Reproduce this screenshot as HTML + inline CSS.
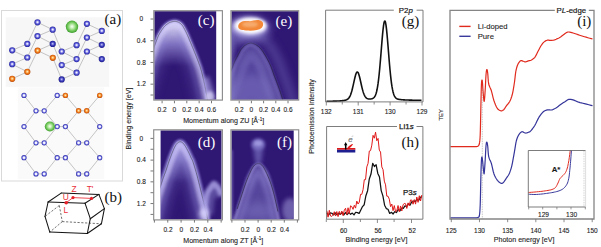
<!DOCTYPE html>
<html><head><meta charset="utf-8"><style>
html,body{margin:0;padding:0;background:#fff;}
svg{display:block;}
</style></head><body>
<svg width="601" height="247" viewBox="0 0 601 247">
<rect width="601" height="247" fill="#fff"/>
<defs>
<radialGradient id="gb" cx="0.5" cy="0.48" r="0.55">
 <stop offset="0" stop-color="#ffffff"/><stop offset="0.22" stop-color="#d0d0fa"/><stop offset="0.5" stop-color="#6464dc"/><stop offset="0.8" stop-color="#3434b4"/><stop offset="1" stop-color="#1c1c88"/></radialGradient>
<radialGradient id="gd" cx="0.5" cy="0.48" r="0.55">
 <stop offset="0" stop-color="#d8d8f8"/><stop offset="0.25" stop-color="#8080e0"/><stop offset="0.55" stop-color="#3a3ab8"/><stop offset="0.85" stop-color="#20209a"/><stop offset="1" stop-color="#141470"/></radialGradient>
<radialGradient id="gr" cx="0.5" cy="0.5" r="0.55">
 <stop offset="0" stop-color="#ffffff"/><stop offset="0.3" stop-color="#f0f0ff"/><stop offset="0.55" stop-color="#8080e4"/><stop offset="0.8" stop-color="#3a3ab8"/><stop offset="1" stop-color="#22229a"/></radialGradient>
<radialGradient id="go" cx="0.5" cy="0.48" r="0.55">
 <stop offset="0" stop-color="#fff6d0"/><stop offset="0.25" stop-color="#fbc070"/><stop offset="0.55" stop-color="#ee7a1c"/><stop offset="0.82" stop-color="#d05808"/><stop offset="1" stop-color="#a03800"/></radialGradient>
<radialGradient id="gg" cx="0.5" cy="0.48" r="0.55">
 <stop offset="0" stop-color="#fbfff8"/><stop offset="0.3" stop-color="#c0ecb0"/><stop offset="0.65" stop-color="#70c858"/><stop offset="0.9" stop-color="#44a034"/><stop offset="1" stop-color="#2e8a26"/></radialGradient>
<filter id="b05" x="-50%" y="-50%" width="200%" height="200%"><feGaussianBlur stdDeviation="0.5"/></filter>
<filter id="b08" x="-50%" y="-50%" width="200%" height="200%"><feGaussianBlur stdDeviation="0.8"/></filter>
<filter id="b1" x="-50%" y="-50%" width="200%" height="200%"><feGaussianBlur stdDeviation="1.2"/></filter>
<filter id="b15" x="-50%" y="-50%" width="200%" height="200%"><feGaussianBlur stdDeviation="1.5"/></filter>
<filter id="b2" x="-50%" y="-50%" width="200%" height="200%"><feGaussianBlur stdDeviation="2.2"/></filter>
<filter id="b4" x="-50%" y="-50%" width="200%" height="200%"><feGaussianBlur stdDeviation="4"/></filter>
<filter id="b7" x="-50%" y="-50%" width="200%" height="200%"><feGaussianBlur stdDeviation="7"/></filter>
</defs>
<rect x="1.5" y="10.5" width="121" height="170.5" fill="#fff" stroke="#d9d9d9" stroke-width="1"/>
<rect x="5.7" y="17.3" width="103.5" height="69.5" fill="#f7f7f7"/>
<rect x="17.8" y="87.5" width="86.5" height="91.5" fill="#fafafa"/>
<g stroke="#bdbdbd" stroke-width="0.9"><line x1="37.5" y1="22.3" x2="52.7" y2="29.7"/><line x1="52.7" y1="29.7" x2="37.5" y2="36.1"/><line x1="37.5" y1="36.1" x2="52.7" y2="43.9"/><line x1="52.7" y1="43.9" x2="37.6" y2="50.6"/><line x1="37.6" y1="50.6" x2="52.8" y2="57.8"/><line x1="12.2" y1="50.3" x2="27.3" y2="43.9"/><line x1="27.3" y1="43.9" x2="37.5" y2="22.3"/><line x1="12.2" y1="50.3" x2="27.3" y2="57.5"/><line x1="27.3" y1="57.5" x2="12.2" y2="64.2"/><line x1="12.2" y1="64.2" x2="27.3" y2="71.8"/><line x1="27.3" y1="71.8" x2="12.2" y2="78.8"/><line x1="37.5" y1="36.1" x2="27.3" y2="57.5"/><line x1="37.6" y1="50.6" x2="27.3" y2="71.8"/><line x1="76.6" y1="45.2" x2="61.7" y2="51.5"/><line x1="61.7" y1="51.5" x2="76.6" y2="59.1"/><line x1="76.6" y1="59.1" x2="61.7" y2="65.1"/><line x1="61.7" y1="65.1" x2="76.6" y2="72.7"/><line x1="76.6" y1="72.7" x2="61.7" y2="79.4"/><line x1="52.7" y1="29.7" x2="61.7" y2="51.5"/><line x1="52.7" y1="43.9" x2="61.7" y2="65.1"/><line x1="52.8" y1="57.8" x2="61.7" y2="79.4"/><line x1="86.9" y1="23.8" x2="101.8" y2="30.9"/><line x1="101.8" y1="30.9" x2="86.9" y2="37.6"/><line x1="86.9" y1="37.6" x2="101.8" y2="44.8"/><line x1="101.8" y1="44.8" x2="86.9" y2="51.5"/><line x1="86.9" y1="51.5" x2="101.8" y2="59.1"/><line x1="76.6" y1="45.2" x2="86.9" y2="23.8"/><line x1="76.6" y1="59.1" x2="86.9" y2="37.6"/><line x1="76.6" y1="72.7" x2="86.9" y2="51.5"/><line x1="36" y1="110.8" x2="44.2" y2="110.8"/><line x1="78.6" y1="110.8" x2="86.7" y2="110.8"/><line x1="36" y1="142.8" x2="44.2" y2="142.8"/><line x1="78.6" y1="142.8" x2="86.7" y2="142.8"/><line x1="36" y1="173.9" x2="44.2" y2="173.9"/><line x1="78.6" y1="173.9" x2="86.7" y2="173.9"/><line x1="57.2" y1="95.4" x2="65.4" y2="95.4"/><line x1="57.2" y1="126.6" x2="65.4" y2="126.6"/><line x1="57.2" y1="157.7" x2="65.4" y2="157.7"/><line x1="24" y1="95.4" x2="36" y2="110.8"/><line x1="44.2" y1="110.8" x2="57.2" y2="95.4"/><line x1="65.4" y1="95.4" x2="78.6" y2="110.8"/><line x1="86.7" y1="110.8" x2="99.7" y2="95.4"/><line x1="24" y1="126.6" x2="36" y2="110.8"/><line x1="44.2" y1="110.8" x2="57.2" y2="126.6"/><line x1="65.4" y1="126.6" x2="78.6" y2="110.8"/><line x1="86.7" y1="110.8" x2="99.7" y2="126.6"/><line x1="24" y1="126.6" x2="36" y2="142.8"/><line x1="44.2" y1="142.8" x2="57.2" y2="126.6"/><line x1="65.4" y1="126.6" x2="78.6" y2="142.8"/><line x1="86.7" y1="142.8" x2="99.7" y2="126.6"/><line x1="24" y1="157.7" x2="36" y2="142.8"/><line x1="44.2" y1="142.8" x2="57.2" y2="157.7"/><line x1="65.4" y1="157.7" x2="78.6" y2="142.8"/><line x1="86.7" y1="142.8" x2="99.7" y2="157.7"/><line x1="24" y1="157.7" x2="36" y2="173.9"/><line x1="44.2" y1="173.9" x2="57.2" y2="157.7"/><line x1="65.4" y1="157.7" x2="78.6" y2="173.9"/><line x1="86.7" y1="173.9" x2="99.7" y2="157.7"/></g>
<circle cx="37.5" cy="22.3" r="3.1" fill="url(#gb)"/>
<circle cx="52.7" cy="29.7" r="3.1" fill="url(#gb)"/>
<circle cx="37.5" cy="36.1" r="3.1" fill="url(#gb)"/>
<circle cx="52.7" cy="43.9" r="3.1" fill="url(#gd)"/>
<circle cx="37.6" cy="50.6" r="3.1" fill="url(#go)"/>
<circle cx="52.8" cy="57.8" r="3.1" fill="url(#go)"/>
<circle cx="27.3" cy="43.9" r="3.1" fill="url(#gb)"/>
<circle cx="12.2" cy="50.3" r="3.1" fill="url(#gb)"/>
<circle cx="27.3" cy="57.5" r="3.1" fill="url(#gb)"/>
<circle cx="12.2" cy="64.2" r="3.1" fill="url(#gb)"/>
<circle cx="27.3" cy="71.8" r="3.1" fill="url(#go)"/>
<circle cx="12.2" cy="78.8" r="3.1" fill="url(#go)"/>
<circle cx="76.6" cy="45.2" r="3.1" fill="url(#gb)"/>
<circle cx="61.7" cy="51.5" r="3.1" fill="url(#gb)"/>
<circle cx="76.6" cy="59.1" r="3.1" fill="url(#gb)"/>
<circle cx="61.7" cy="65.1" r="3.1" fill="url(#gb)"/>
<circle cx="76.6" cy="72.7" r="3.1" fill="url(#gb)"/>
<circle cx="61.7" cy="79.4" r="3.1" fill="url(#gd)"/>
<circle cx="86.9" cy="23.8" r="3.1" fill="url(#gb)"/>
<circle cx="101.8" cy="30.9" r="3.1" fill="url(#gb)"/>
<circle cx="86.9" cy="37.6" r="3.1" fill="url(#gb)"/>
<circle cx="101.8" cy="44.8" r="3.1" fill="url(#gd)"/>
<circle cx="86.9" cy="51.5" r="3.1" fill="url(#gb)"/>
<circle cx="101.8" cy="59.1" r="3.1" fill="url(#gd)"/>
<circle cx="24" cy="95.4" r="2.6" fill="url(#gr)"/>
<circle cx="57.2" cy="95.4" r="2.6" fill="url(#gr)"/>
<circle cx="65.4" cy="95.4" r="2.7" fill="url(#go)"/>
<circle cx="99.7" cy="95.4" r="2.7" fill="url(#go)"/>
<circle cx="24" cy="126.6" r="2.6" fill="url(#gr)"/>
<circle cx="57.2" cy="126.6" r="2.6" fill="url(#gr)"/>
<circle cx="65.4" cy="126.6" r="2.6" fill="url(#gr)"/>
<circle cx="99.7" cy="126.6" r="2.6" fill="url(#gr)"/>
<circle cx="24" cy="157.7" r="2.6" fill="url(#gr)"/>
<circle cx="57.2" cy="157.7" r="2.6" fill="url(#gr)"/>
<circle cx="65.4" cy="157.7" r="2.6" fill="url(#gr)"/>
<circle cx="99.7" cy="157.7" r="2.6" fill="url(#gr)"/>
<circle cx="36" cy="110.8" r="2.6" fill="url(#gr)"/>
<circle cx="44.2" cy="110.8" r="2.6" fill="url(#gr)"/>
<circle cx="78.6" cy="110.8" r="2.7" fill="url(#go)"/>
<circle cx="86.7" cy="110.8" r="2.7" fill="url(#go)"/>
<circle cx="36" cy="142.8" r="2.6" fill="url(#gr)"/>
<circle cx="44.2" cy="142.8" r="2.6" fill="url(#gr)"/>
<circle cx="78.6" cy="142.8" r="2.6" fill="url(#gr)"/>
<circle cx="86.7" cy="142.8" r="2.6" fill="url(#gr)"/>
<circle cx="36" cy="173.9" r="2.6" fill="url(#gr)"/>
<circle cx="44.2" cy="173.9" r="2.6" fill="url(#gr)"/>
<circle cx="78.6" cy="173.9" r="2.6" fill="url(#gr)"/>
<circle cx="86.7" cy="173.9" r="2.6" fill="url(#gr)"/>
<circle cx="72" cy="26.8" r="6.2" fill="url(#gg)"/>
<circle cx="49.9" cy="126.5" r="5.1" fill="url(#gg)"/>
<text x="104.6" y="24.3" font-family="Liberation Serif, serif" font-size="15" fill="#111">(a)</text>
<g stroke="#141414" stroke-width="1.05" fill="none" stroke-linecap="round"><line x1="61.2" y1="193.1" x2="98.9" y2="194.4"/><line x1="61.2" y1="193.1" x2="48.1" y2="202"/><line x1="48.1" y1="202" x2="85" y2="203.2"/><line x1="48.1" y1="202" x2="45" y2="216.4"/><line x1="45" y1="216.4" x2="49.8" y2="232.1"/><line x1="49.8" y1="232.1" x2="87.3" y2="233.5"/><line x1="85" y1="203.2" x2="98.9" y2="194.4"/><line x1="98.9" y1="194.4" x2="104.4" y2="208.6"/><line x1="104.4" y1="208.6" x2="90.3" y2="218.7"/><line x1="85" y1="203.2" x2="90.3" y2="218.7"/><line x1="90.3" y1="218.7" x2="87.3" y2="233.5"/><line x1="104.4" y1="208.6" x2="101.4" y2="223.8"/><line x1="101.4" y1="223.8" x2="87.3" y2="233.5"/></g><g stroke="#333" stroke-width="0.7" stroke-dasharray="2.2 1.6" fill="none"><line x1="59.3" y1="205.5" x2="45" y2="216.4"/><line x1="59.3" y1="205.5" x2="62.3" y2="221.6"/><line x1="62.3" y1="221.6" x2="101.4" y2="223.8"/><line x1="62.3" y1="221.6" x2="49.8" y2="232.1"/></g>
<g stroke="#e8202a" stroke-width="0.8"><line x1="66.2" y1="202.7" x2="73" y2="197.6"/><line x1="73" y1="197.6" x2="91.5" y2="198.4"/></g>
<g fill="#e8202a"><circle cx="66.2" cy="202.7" r="1.8"/><circle cx="73" cy="197.6" r="1.6"/><circle cx="91.5" cy="198.4" r="1.6"/></g>
<g font-family="Liberation Sans, sans-serif" font-size="8.4" fill="#e8303a" text-anchor="middle"><text x="74.1" y="191.5">Z</text><text x="90" y="191.9">T'</text><text x="65.7" y="200.4">U</text><text x="65.9" y="213.2">L</text></g>
<text x="104.6" y="202.3" font-family="Liberation Serif, serif" font-size="15" fill="#111">(b)</text>
<clipPath id="cc"><rect x="154.4" y="11.2" width="61.8" height="88.4"/></clipPath>
<rect x="153.5" y="10" width="68.5" height="90.3" fill="#fff"/>
<rect x="154.4" y="11.2" width="61.8" height="88.4" fill="#2f1774"/>
<clipPath id="bi1"><path d="M136.86 99.63 L137.13 98.79 L137.49 97.67 L137.92 96.33 L138.4 94.85 L138.91 93.28 L139.41 91.68 L139.9 90.12 L140.35 88.65 L140.77 87.25 L141.18 85.85 L141.58 84.44 L141.98 83.02 L142.39 81.58 L142.8 80.13 L143.22 78.66 L143.65 77.16 L144.1 75.61 L144.58 73.99 L145.07 72.33 L145.56 70.66 L146.05 69.02 L146.51 67.45 L146.95 65.99 L147.35 64.65 L147.71 63.47 L148.03 62.4 L148.33 61.43 L148.61 60.52 L148.87 59.66 L149.13 58.83 L149.39 58 L149.65 57.15 L149.92 56.28 L150.18 55.43 L150.43 54.59 L150.68 53.77 L150.93 52.96 L151.17 52.17 L151.42 51.39 L151.66 50.64 L151.89 49.9 L152.12 49.19 L152.35 48.51 L152.57 47.83 L152.79 47.17 L153.01 46.51 L153.24 45.86 L153.47 45.2 L153.7 44.54 L153.94 43.89 L154.18 43.25 L154.41 42.6 L154.65 41.97 L154.89 41.33 L155.14 40.7 L155.38 40.07 L155.62 39.44 L155.87 38.79 L156.11 38.14 L156.36 37.49 L156.62 36.84 L156.88 36.2 L157.14 35.58 L157.42 34.98 L157.7 34.42 L157.98 33.88 L158.27 33.37 L158.56 32.88 L158.84 32.41 L159.13 31.95 L159.41 31.51 L159.68 31.06 L159.96 30.62 L160.24 30.18 L160.52 29.74 L160.8 29.31 L161.08 28.89 L161.37 28.48 L161.65 28.07 L161.94 27.68 L162.22 27.31 L162.51 26.94 L162.79 26.58 L163.08 26.23 L163.37 25.9 L163.66 25.57 L163.96 25.25 L164.25 24.95 L164.54 24.67 L164.83 24.4 L165.11 24.15 L165.4 23.91 L165.69 23.68 L165.99 23.46 L166.3 23.24 L166.62 23.01 L166.94 22.79 L167.28 22.56 L167.64 22.32 L168.02 22.07 L168.42 21.83 L168.84 21.6 L169.29 21.38 L169.76 21.18 L170.25 21.01 L170.76 20.84 L171.28 20.69 L171.82 20.56 L172.35 20.44 L172.88 20.34 L173.4 20.26 L173.89 20.2 L174.37 20.17 L174.82 20.17 L175.26 20.18 L175.69 20.22 L176.11 20.28 L176.52 20.35 L176.92 20.44 L177.32 20.54 L177.71 20.66 L178.11 20.79 L178.5 20.93 L178.9 21.1 L179.3 21.29 L179.71 21.51 L180.11 21.75 L180.5 22.03 L180.89 22.31 L181.27 22.62 L181.65 22.95 L182.04 23.31 L182.42 23.7 L182.81 24.13 L183.19 24.59 L183.58 25.1 L183.96 25.67 L184.34 26.28 L184.72 26.93 L185.09 27.6 L185.45 28.28 L185.8 28.95 L186.14 29.62 L186.47 30.25 L186.78 30.88 L187.09 31.49 L187.38 32.1 L187.67 32.71 L187.95 33.32 L188.23 33.94 L188.51 34.57 L188.8 35.22 L189.09 35.88 L189.38 36.56 L189.67 37.25 L189.95 37.94 L190.24 38.64 L190.53 39.34 L190.82 40.04 L191.11 40.74 L191.4 41.44 L191.7 42.15 L192.01 42.87 L192.31 43.59 L192.62 44.31 L192.92 45.03 L193.22 45.74 L193.51 46.44 L193.79 47.13 L194.07 47.81 L194.35 48.49 L194.62 49.16 L194.9 49.83 L195.17 50.5 L195.44 51.17 L195.71 51.85 L195.99 52.53 L196.26 53.2 L196.53 53.87 L196.8 54.54 L197.07 55.22 L197.35 55.92 L197.63 56.63 L197.92 57.37 L198.21 58.13 L198.52 58.93 L198.83 59.75 L199.15 60.58 L199.46 61.41 L199.76 62.23 L200.06 63.03 L200.33 63.79 L200.58 64.49 L200.81 65.14 L201.03 65.75 L201.25 66.37 L201.46 67 L201.68 67.68 L201.91 68.43 L202.15 69.27 L202.41 70.21 L202.68 71.21 L202.96 72.28 L203.24 73.39 L203.53 74.53 L203.81 75.7 L204.09 76.86 L204.37 78.03 L204.64 79.18 L204.9 80.35 L205.16 81.53 L205.42 82.72 L205.68 83.94 L205.94 85.18 L206.21 86.45 L206.48 87.76 L206.75 89.15 L207.04 90.62 L207.33 92.13 L207.62 93.67 L207.9 95.18 L208.18 96.64 L208.44 98.02 L208.68 99.27 L208.9 100.39 L209.09 101.39 L209.27 102.31 L209.44 103.17 L209.61 104.02 L209.78 104.87 L209.97 105.77 L210.17 106.75 L210.41 107.86 L210.68 109.1 L210.97 110.4 L211.26 111.71 L211.55 112.95 L211.8 114.08 L212.01 115.03 L212.17 115.74 L212.17 196 L136.86 196 Z"/></clipPath>
<linearGradient id="fg1" gradientUnits="userSpaceOnUse" x1="0" y1="21" x2="0" y2="100"><stop offset="0" stop-color="#fff"/><stop offset="1" stop-color="#fff" stop-opacity="0.6"/></linearGradient>
<mask id="fm1" maskUnits="userSpaceOnUse" x="0" y="0" width="601" height="247"><rect x="0" y="0" width="601" height="247" fill="url(#fg1)"/></mask>
<g clip-path="url(#cc)">
<g clip-path="url(#bi1)"><g mask="url(#fm1)">
<linearGradient id="cg1" gradientUnits="userSpaceOnUse" x1="0" y1="21" x2="0" y2="66"><stop offset="0" stop-color="#ffffff" stop-opacity="1"/><stop offset="0.16" stop-color="#ffffff" stop-opacity="1"/><stop offset="0.51" stop-color="#b4acee" stop-opacity="0.72"/><stop offset="1" stop-color="#b4acee" stop-opacity="0"/></linearGradient>
<path d="M136.86 99.63 L137.13 98.79 L137.49 97.67 L137.92 96.33 L138.4 94.85 L138.91 93.28 L139.41 91.68 L139.9 90.12 L140.35 88.65 L140.77 87.25 L141.18 85.85 L141.58 84.44 L141.98 83.02 L142.39 81.58 L142.8 80.13 L143.22 78.66 L143.65 77.16 L144.1 75.61 L144.58 73.99 L145.07 72.33 L145.56 70.66 L146.05 69.02 L146.51 67.45 L146.95 65.99 L147.35 64.65 L147.71 63.47 L148.03 62.4 L148.33 61.43 L148.61 60.52 L148.87 59.66 L149.13 58.83 L149.39 58 L149.65 57.15 L149.92 56.28 L150.18 55.43 L150.43 54.59 L150.68 53.77 L150.93 52.96 L151.17 52.17 L151.42 51.39 L151.66 50.64 L151.89 49.9 L152.12 49.19 L152.35 48.51 L152.57 47.83 L152.79 47.17 L153.01 46.51 L153.24 45.86 L153.47 45.2 L153.7 44.54 L153.94 43.89 L154.18 43.25 L154.41 42.6 L154.65 41.97 L154.89 41.33 L155.14 40.7 L155.38 40.07 L155.62 39.44 L155.87 38.79 L156.11 38.14 L156.36 37.49 L156.62 36.84 L156.88 36.2 L157.14 35.58 L157.42 34.98 L157.7 34.42 L157.98 33.88 L158.27 33.37 L158.56 32.88 L158.84 32.41 L159.13 31.95 L159.41 31.51 L159.68 31.06 L159.96 30.62 L160.24 30.18 L160.52 29.74 L160.8 29.31 L161.08 28.89 L161.37 28.48 L161.65 28.07 L161.94 27.68 L162.22 27.31 L162.51 26.94 L162.79 26.58 L163.08 26.23 L163.37 25.9 L163.66 25.57 L163.96 25.25 L164.25 24.95 L164.54 24.67 L164.83 24.4 L165.11 24.15 L165.4 23.91 L165.69 23.68 L165.99 23.46 L166.3 23.24 L166.62 23.01 L166.94 22.79 L167.28 22.56 L167.64 22.32 L168.02 22.07 L168.42 21.83 L168.84 21.6 L169.29 21.38 L169.76 21.18 L170.25 21.01 L170.76 20.84 L171.28 20.69 L171.82 20.56 L172.35 20.44 L172.88 20.34 L173.4 20.26 L173.89 20.2 L174.37 20.17 L174.82 20.17 L175.26 20.18 L175.69 20.22 L176.11 20.28 L176.52 20.35 L176.92 20.44 L177.32 20.54 L177.71 20.66 L178.11 20.79 L178.5 20.93 L178.9 21.1 L179.3 21.29 L179.71 21.51 L180.11 21.75 L180.5 22.03 L180.89 22.31 L181.27 22.62 L181.65 22.95 L182.04 23.31 L182.42 23.7 L182.81 24.13 L183.19 24.59 L183.58 25.1 L183.96 25.67 L184.34 26.28 L184.72 26.93 L185.09 27.6 L185.45 28.28 L185.8 28.95 L186.14 29.62 L186.47 30.25 L186.78 30.88 L187.09 31.49 L187.38 32.1 L187.67 32.71 L187.95 33.32 L188.23 33.94 L188.51 34.57 L188.8 35.22 L189.09 35.88 L189.38 36.56 L189.67 37.25 L189.95 37.94 L190.24 38.64 L190.53 39.34 L190.82 40.04 L191.11 40.74 L191.4 41.44 L191.7 42.15 L192.01 42.87 L192.31 43.59 L192.62 44.31 L192.92 45.03 L193.22 45.74 L193.51 46.44 L193.79 47.13 L194.07 47.81 L194.35 48.49 L194.62 49.16 L194.9 49.83 L195.17 50.5 L195.44 51.17 L195.71 51.85 L195.99 52.53 L196.26 53.2 L196.53 53.87 L196.8 54.54 L197.07 55.22 L197.35 55.92 L197.63 56.63 L197.92 57.37 L198.21 58.13 L198.52 58.93 L198.83 59.75 L199.15 60.58 L199.46 61.41 L199.76 62.23 L200.06 63.03 L200.33 63.79 L200.58 64.49 L200.81 65.14 L201.03 65.75 L201.25 66.37 L201.46 67 L201.68 67.68 L201.91 68.43 L202.15 69.27 L202.41 70.21 L202.68 71.21 L202.96 72.28 L203.24 73.39 L203.53 74.53 L203.81 75.7 L204.09 76.86 L204.37 78.03 L204.64 79.18 L204.9 80.35 L205.16 81.53 L205.42 82.72 L205.68 83.94 L205.94 85.18 L206.21 86.45 L206.48 87.76 L206.75 89.15 L207.04 90.62 L207.33 92.13 L207.62 93.67 L207.9 95.18 L208.18 96.64 L208.44 98.02 L208.68 99.27 L208.9 100.39 L209.09 101.39 L209.27 102.31 L209.44 103.17 L209.61 104.02 L209.78 104.87 L209.97 105.77 L210.17 106.75 L210.41 107.86 L210.68 109.1 L210.97 110.4 L211.26 111.71 L211.55 112.95 L211.8 114.08 L212.01 115.03 L212.17 115.74 L212.17 196 L136.86 196 Z" fill="url(#cg1)" filter="url(#b1)"/>
<path d="M148.47 103.36 L148.74 102.53 L149.1 101.42 L149.53 100.09 L150.02 98.59 L150.53 96.99 L151.05 95.35 L151.56 93.73 L152.03 92.18 L152.47 90.7 L152.9 89.23 L153.31 87.78 L153.72 86.33 L154.13 84.89 L154.53 83.46 L154.94 82.02 L155.36 80.57 L155.81 79.05 L156.28 77.43 L156.77 75.78 L157.26 74.12 L157.74 72.5 L158.21 70.94 L158.64 69.48 L159.04 68.16 L159.39 67 L159.7 65.96 L159.99 65.01 L160.27 64.12 L160.53 63.27 L160.79 62.44 L161.05 61.6 L161.32 60.73 L161.59 59.85 L161.85 58.98 L162.1 58.14 L162.35 57.33 L162.59 56.54 L162.83 55.78 L163.06 55.05 L163.28 54.34 L163.5 53.64 L163.72 52.97 L163.94 52.31 L164.14 51.68 L164.35 51.07 L164.56 50.46 L164.76 49.86 L164.97 49.26 L165.19 48.66 L165.4 48.07 L165.62 47.48 L165.84 46.88 L166.06 46.28 L166.29 45.68 L166.53 45.08 L166.77 44.44 L167.03 43.77 L167.28 43.1 L167.52 42.48 L167.74 41.89 L167.94 41.37 L168.13 40.91 L168.29 40.53 L168.43 40.23 L168.56 39.98 L168.69 39.72 L168.85 39.44 L169.03 39.14 L169.24 38.8 L169.48 38.41 L169.75 37.98 L170.03 37.52 L170.29 37.11 L170.53 36.73 L170.76 36.38 L170.97 36.05 L171.18 35.74 L171.37 35.46 L171.55 35.2 L171.73 34.96 L171.91 34.73 L172.09 34.49 L172.26 34.28 L172.41 34.09 L172.56 33.93 L172.68 33.79 L172.79 33.67 L172.88 33.57 L172.96 33.5 L173.01 33.45 L173.05 33.42 L173.09 33.39 L173.14 33.35 L173.22 33.28 L173.35 33.19 L173.57 33.04 L173.86 32.84 L174.13 32.65 L174.32 32.52 L174.44 32.44 L174.49 32.42 L174.46 32.43 L174.35 32.48 L174.22 32.54 L174.19 32.55 L174.29 32.52 L174.45 32.47 L174.63 32.43 L174.8 32.39 L174.94 32.36 L175.01 32.35 L174.98 32.36 L174.86 32.36 L174.71 32.37 L174.53 32.36 L174.36 32.35 L174.2 32.33 L174.1 32.31 L174.05 32.3 L174.08 32.31 L174.13 32.32 L174.12 32.31 L174.04 32.29 L173.92 32.24 L173.77 32.16 L173.6 32.07 L173.44 31.97 L173.36 31.92 L173.41 31.95 L173.48 32.01 L173.52 32.04 L173.54 32.06 L173.55 32.07 L173.57 32.09 L173.6 32.14 L173.65 32.19 L173.72 32.3 L173.88 32.56 L174.1 32.94 L174.36 33.41 L174.65 33.96 L174.96 34.56 L175.29 35.19 L175.6 35.8 L175.88 36.34 L176.12 36.84 L176.37 37.34 L176.61 37.86 L176.85 38.39 L177.11 38.95 L177.37 39.53 L177.63 40.13 L177.89 40.71 L178.14 41.31 L178.4 41.94 L178.68 42.59 L178.96 43.28 L179.25 43.99 L179.55 44.71 L179.85 45.45 L180.16 46.18 L180.47 46.9 L180.77 47.62 L181.07 48.34 L181.38 49.05 L181.67 49.75 L181.96 50.44 L182.24 51.11 L182.51 51.78 L182.79 52.44 L183.06 53.1 L183.32 53.76 L183.59 54.41 L183.86 55.07 L184.13 55.74 L184.4 56.42 L184.68 57.1 L184.95 57.78 L185.22 58.44 L185.48 59.1 L185.75 59.75 L186.01 60.41 L186.27 61.08 L186.54 61.77 L186.83 62.51 L187.13 63.29 L187.43 64.08 L187.73 64.88 L188.03 65.68 L188.32 66.45 L188.59 67.19 L188.85 67.92 L189.1 68.62 L189.33 69.26 L189.53 69.83 L189.71 70.33 L189.87 70.82 L190.04 71.33 L190.22 71.91 L190.42 72.6 L190.65 73.42 L190.89 74.33 L191.15 75.32 L191.41 76.37 L191.68 77.45 L191.96 78.57 L192.23 79.69 L192.49 80.8 L192.74 81.91 L193 83.02 L193.25 84.15 L193.5 85.3 L193.75 86.47 L194 87.67 L194.26 88.91 L194.52 90.18 L194.78 91.5 L195.06 92.92 L195.34 94.41 L195.63 95.92 L195.91 97.43 L196.19 98.9 L196.45 100.3 L196.7 101.59 L196.92 102.72 L197.12 103.72 L197.3 104.66 L197.47 105.55 L197.65 106.42 L197.83 107.32 L198.03 108.27 L198.24 109.29 L198.49 110.45 L198.77 111.72 L199.06 113.05 L199.36 114.37 L199.64 115.63 L199.9 116.76 L200.11 117.71 L200.27 118.4" fill="none" stroke="#7c74c6" stroke-width="9" opacity="0.3" filter="url(#b4)"/>
<path d="M144.66 102.14 L144.93 101.3 L145.29 100.19 L145.73 98.86 L146.21 97.36 L146.72 95.77 L147.23 94.15 L147.73 92.55 L148.2 91.03 L148.63 89.57 L149.06 88.12 L149.47 86.68 L149.87 85.25 L150.28 83.81 L150.69 82.37 L151.1 80.92 L151.52 79.45 L151.97 77.92 L152.44 76.3 L152.93 74.65 L153.42 72.99 L153.91 71.36 L154.37 69.8 L154.81 68.33 L155.2 67.01 L155.56 65.84 L155.88 64.79 L156.17 63.83 L156.44 62.94 L156.71 62.09 L156.97 61.26 L157.22 60.42 L157.49 59.56 L157.76 58.68 L158.02 57.82 L158.28 56.98 L158.53 56.16 L158.77 55.37 L159.01 54.6 L159.24 53.85 L159.47 53.12 L159.7 52.42 L159.92 51.73 L160.14 51.07 L160.35 50.42 L160.56 49.79 L160.77 49.17 L160.98 48.55 L161.2 47.93 L161.42 47.31 L161.64 46.7 L161.87 46.09 L162.09 45.48 L162.32 44.87 L162.56 44.26 L162.79 43.64 L163.04 43.01 L163.29 42.35 L163.54 41.69 L163.78 41.05 L164.01 40.45 L164.23 39.88 L164.44 39.37 L164.64 38.91 L164.82 38.51 L165 38.16 L165.18 37.81 L165.38 37.45 L165.6 37.09 L165.83 36.7 L166.08 36.29 L166.36 35.86 L166.64 35.4 L166.9 34.98 L167.15 34.58 L167.4 34.2 L167.64 33.84 L167.87 33.49 L168.09 33.17 L168.31 32.87 L168.52 32.58 L168.73 32.29 L168.95 32.02 L169.15 31.76 L169.35 31.52 L169.54 31.29 L169.72 31.09 L169.89 30.91 L170.05 30.75 L170.2 30.6 L170.33 30.48 L170.45 30.38 L170.57 30.28 L170.7 30.18 L170.85 30.06 L171.04 29.93 L171.29 29.75 L171.59 29.54 L171.89 29.34 L172.13 29.18 L172.34 29.04 L172.5 28.95 L172.62 28.88 L172.69 28.84 L172.76 28.82 L172.9 28.77 L173.13 28.69 L173.41 28.61 L173.71 28.54 L174 28.47 L174.27 28.42 L174.48 28.39 L174.62 28.37 L174.7 28.37 L174.74 28.37 L174.77 28.37 L174.79 28.37 L174.83 28.38 L174.89 28.39 L174.99 28.41 L175.14 28.45 L175.3 28.5 L175.43 28.53 L175.51 28.56 L175.56 28.58 L175.58 28.6 L175.6 28.61 L175.62 28.62 L175.7 28.68 L175.86 28.79 L176.03 28.93 L176.18 29.06 L176.32 29.19 L176.46 29.33 L176.6 29.48 L176.75 29.66 L176.9 29.87 L177.08 30.13 L177.31 30.5 L177.58 30.97 L177.88 31.51 L178.19 32.1 L178.52 32.72 L178.85 33.36 L179.17 33.98 L179.45 34.55 L179.72 35.09 L179.98 35.62 L180.23 36.17 L180.49 36.73 L180.75 37.31 L181.02 37.91 L181.29 38.52 L181.56 39.13 L181.82 39.75 L182.1 40.4 L182.37 41.07 L182.66 41.76 L182.95 42.46 L183.24 43.18 L183.54 43.9 L183.85 44.62 L184.15 45.34 L184.45 46.06 L184.76 46.78 L185.06 47.5 L185.36 48.2 L185.65 48.9 L185.93 49.58 L186.21 50.26 L186.49 50.92 L186.76 51.59 L187.03 52.25 L187.3 52.91 L187.57 53.57 L187.84 54.24 L188.11 54.92 L188.39 55.6 L188.66 56.28 L188.93 56.94 L189.19 57.6 L189.46 58.27 L189.73 58.94 L190 59.62 L190.27 60.33 L190.56 61.08 L190.86 61.86 L191.17 62.66 L191.47 63.47 L191.78 64.28 L192.07 65.07 L192.35 65.83 L192.61 66.57 L192.86 67.27 L193.1 67.91 L193.3 68.49 L193.49 69.03 L193.67 69.57 L193.86 70.14 L194.05 70.77 L194.27 71.51 L194.5 72.37 L194.76 73.31 L195.02 74.32 L195.29 75.39 L195.57 76.5 L195.84 77.62 L196.12 78.76 L196.38 79.89 L196.64 81.02 L196.9 82.15 L197.15 83.29 L197.41 84.45 L197.66 85.64 L197.92 86.86 L198.18 88.1 L198.44 89.38 L198.71 90.73 L198.99 92.17 L199.27 93.66 L199.56 95.18 L199.84 96.69 L200.12 98.16 L200.38 99.55 L200.63 100.83 L200.85 101.95 L201.04 102.96 L201.22 103.89 L201.4 104.77 L201.57 105.64 L201.75 106.52 L201.94 107.45 L202.15 108.46 L202.4 109.6 L202.68 110.86 L202.97 112.18 L203.26 113.5 L203.55 114.75 L203.8 115.89 L204.01 116.83 L204.17 117.53" fill="none" stroke="#a098e2" stroke-width="6" opacity="0.45" filter="url(#b2)"/>
<path d="M141.43 101.1 L141.7 100.26 L142.06 99.14 L142.49 97.81 L142.97 96.32 L143.48 94.74 L143.99 93.13 L144.49 91.54 L144.95 90.04 L145.37 88.61 L145.79 87.18 L146.2 85.75 L146.6 84.32 L147.01 82.88 L147.42 81.44 L147.83 79.98 L148.26 78.51 L148.71 76.96 L149.18 75.34 L149.67 73.69 L150.16 72.02 L150.65 70.39 L151.11 68.82 L151.55 67.36 L151.95 66.04 L152.3 64.86 L152.62 63.8 L152.92 62.83 L153.2 61.94 L153.46 61.08 L153.72 60.25 L153.98 59.42 L154.24 58.56 L154.51 57.68 L154.77 56.83 L155.02 55.99 L155.27 55.17 L155.52 54.37 L155.76 53.59 L156 52.83 L156.23 52.09 L156.46 51.37 L156.69 50.68 L156.91 50 L157.12 49.35 L157.34 48.7 L157.55 48.07 L157.77 47.43 L158 46.8 L158.22 46.16 L158.45 45.53 L158.68 44.91 L158.91 44.29 L159.14 43.67 L159.38 43.04 L159.62 42.42 L159.86 41.79 L160.11 41.14 L160.36 40.49 L160.6 39.84 L160.84 39.22 L161.07 38.62 L161.3 38.05 L161.53 37.53 L161.75 37.05 L161.97 36.61 L162.2 36.18 L162.43 35.76 L162.68 35.34 L162.93 34.92 L163.2 34.49 L163.48 34.05 L163.75 33.61 L164.02 33.17 L164.29 32.76 L164.55 32.35 L164.8 31.96 L165.05 31.58 L165.3 31.22 L165.55 30.88 L165.79 30.55 L166.03 30.23 L166.28 29.91 L166.52 29.61 L166.75 29.33 L166.98 29.06 L167.21 28.8 L167.43 28.57 L167.65 28.34 L167.85 28.14 L168.05 27.96 L168.24 27.8 L168.42 27.64 L168.62 27.48 L168.83 27.32 L169.07 27.15 L169.35 26.96 L169.66 26.74 L169.98 26.53 L170.27 26.33 L170.55 26.15 L170.81 26 L171.05 25.86 L171.28 25.75 L171.51 25.65 L171.8 25.55 L172.15 25.44 L172.53 25.33 L172.92 25.23 L173.32 25.14 L173.69 25.07 L174.03 25.02 L174.32 24.99 L174.56 24.97 L174.78 24.97 L174.98 24.97 L175.17 24.99 L175.36 25.02 L175.57 25.05 L175.79 25.11 L176.05 25.17 L176.3 25.25 L176.54 25.32 L176.75 25.4 L176.94 25.48 L177.13 25.57 L177.3 25.66 L177.48 25.77 L177.69 25.92 L177.94 26.11 L178.2 26.31 L178.45 26.53 L178.69 26.75 L178.93 26.99 L179.17 27.26 L179.42 27.56 L179.67 27.89 L179.93 28.28 L180.22 28.75 L180.54 29.29 L180.87 29.89 L181.2 30.51 L181.54 31.16 L181.87 31.81 L182.19 32.44 L182.49 33.03 L182.77 33.6 L183.05 34.16 L183.32 34.74 L183.58 35.32 L183.85 35.91 L184.13 36.52 L184.4 37.15 L184.68 37.78 L184.96 38.43 L185.23 39.09 L185.52 39.77 L185.8 40.47 L186.09 41.17 L186.38 41.88 L186.68 42.59 L186.98 43.3 L187.28 44.02 L187.59 44.74 L187.89 45.46 L188.19 46.18 L188.49 46.89 L188.79 47.59 L189.07 48.28 L189.36 48.96 L189.63 49.63 L189.91 50.3 L190.18 50.97 L190.45 51.63 L190.72 52.3 L190.99 52.97 L191.26 53.65 L191.54 54.33 L191.81 55 L192.08 55.67 L192.35 56.33 L192.62 57 L192.89 57.68 L193.16 58.38 L193.44 59.1 L193.73 59.86 L194.04 60.65 L194.35 61.46 L194.66 62.27 L194.96 63.09 L195.26 63.89 L195.54 64.67 L195.81 65.42 L196.06 66.12 L196.3 66.76 L196.51 67.36 L196.71 67.93 L196.9 68.5 L197.1 69.12 L197.31 69.8 L197.54 70.58 L197.78 71.47 L198.04 72.44 L198.31 73.48 L198.59 74.56 L198.87 75.68 L199.15 76.82 L199.42 77.97 L199.69 79.12 L199.96 80.26 L200.22 81.4 L200.47 82.56 L200.73 83.74 L200.99 84.93 L201.25 86.16 L201.51 87.42 L201.77 88.71 L202.04 90.07 L202.32 91.52 L202.61 93.03 L202.9 94.55 L203.18 96.07 L203.46 97.53 L203.72 98.92 L203.97 100.18 L204.18 101.31 L204.38 102.31 L204.56 103.23 L204.73 104.11 L204.9 104.96 L205.08 105.84 L205.27 106.75 L205.48 107.75 L205.72 108.88 L206 110.13 L206.29 111.44 L206.58 112.76 L206.86 114.01 L207.12 115.14 L207.33 116.08 L207.49 116.79" fill="none" stroke="#c8c2f6" stroke-width="4.2" opacity="0.7" filter="url(#b1)"/>
<path d="M139.14 100.37 L139.41 99.52 L139.78 98.4 L140.21 97.07 L140.69 95.59 L141.19 94.01 L141.7 92.4 L142.19 90.83 L142.65 89.35 L143.07 87.93 L143.48 86.52 L143.89 85.1 L144.29 83.67 L144.7 82.23 L145.11 80.78 L145.52 79.32 L145.95 77.84 L146.4 76.29 L146.88 74.67 L147.37 73.01 L147.86 71.34 L148.35 69.71 L148.81 68.14 L149.25 66.67 L149.65 65.35 L150.01 64.16 L150.33 63.1 L150.63 62.13 L150.9 61.23 L151.17 60.37 L151.43 59.54 L151.68 58.71 L151.95 57.85 L152.21 56.98 L152.47 56.13 L152.73 55.29 L152.98 54.47 L153.22 53.67 L153.47 52.88 L153.71 52.11 L153.94 51.36 L154.18 50.64 L154.4 49.94 L154.63 49.26 L154.84 48.59 L155.06 47.94 L155.28 47.29 L155.51 46.65 L155.73 46 L155.96 45.35 L156.19 44.71 L156.43 44.08 L156.66 43.45 L156.9 42.82 L157.14 42.19 L157.38 41.56 L157.62 40.93 L157.87 40.29 L158.11 39.64 L158.36 38.99 L158.6 38.35 L158.85 37.73 L159.09 37.13 L159.34 36.55 L159.58 36.02 L159.83 35.51 L160.09 35.03 L160.35 34.56 L160.62 34.11 L160.89 33.66 L161.16 33.22 L161.44 32.78 L161.72 32.34 L161.99 31.9 L162.26 31.47 L162.53 31.05 L162.8 30.64 L163.07 30.24 L163.33 29.85 L163.6 29.48 L163.86 29.12 L164.13 28.77 L164.39 28.43 L164.66 28.1 L164.92 27.78 L165.18 27.48 L165.44 27.19 L165.69 26.91 L165.95 26.65 L166.2 26.4 L166.44 26.18 L166.67 25.97 L166.91 25.78 L167.16 25.58 L167.41 25.39 L167.68 25.19 L167.98 24.99 L168.3 24.77 L168.63 24.54 L168.95 24.32 L169.28 24.11 L169.61 23.92 L169.95 23.73 L170.29 23.57 L170.64 23.42 L171.03 23.28 L171.45 23.14 L171.91 23.01 L172.37 22.89 L172.83 22.79 L173.29 22.7 L173.72 22.64 L174.11 22.6 L174.46 22.57 L174.8 22.57 L175.12 22.58 L175.43 22.61 L175.74 22.65 L176.04 22.7 L176.36 22.77 L176.68 22.86 L177.01 22.95 L177.32 23.05 L177.63 23.17 L177.92 23.29 L178.21 23.43 L178.5 23.59 L178.8 23.76 L179.1 23.97 L179.41 24.21 L179.73 24.47 L180.05 24.74 L180.36 25.03 L180.68 25.35 L180.99 25.69 L181.31 26.08 L181.62 26.5 L181.95 26.97 L182.28 27.51 L182.63 28.11 L182.98 28.74 L183.32 29.39 L183.67 30.06 L184.01 30.71 L184.33 31.35 L184.64 31.95 L184.93 32.54 L185.22 33.13 L185.49 33.72 L185.77 34.32 L186.04 34.93 L186.32 35.55 L186.6 36.18 L186.88 36.83 L187.17 37.5 L187.45 38.17 L187.73 38.86 L188.02 39.55 L188.31 40.25 L188.6 40.96 L188.89 41.66 L189.19 42.37 L189.49 43.09 L189.8 43.8 L190.1 44.52 L190.4 45.24 L190.71 45.96 L191 46.66 L191.29 47.36 L191.58 48.05 L191.85 48.72 L192.13 49.4 L192.4 50.06 L192.67 50.73 L192.94 51.4 L193.21 52.07 L193.49 52.75 L193.76 53.43 L194.03 54.1 L194.3 54.77 L194.57 55.44 L194.85 56.11 L195.12 56.8 L195.4 57.51 L195.68 58.23 L195.97 58.99 L196.28 59.79 L196.59 60.6 L196.9 61.43 L197.21 62.25 L197.51 63.06 L197.8 63.85 L198.07 64.61 L198.32 65.31 L198.55 65.95 L198.77 66.55 L198.98 67.15 L199.18 67.75 L199.39 68.4 L199.61 69.12 L199.85 69.93 L200.1 70.84 L200.36 71.83 L200.64 72.88 L200.92 73.97 L201.2 75.11 L201.48 76.26 L201.76 77.42 L202.03 78.57 L202.3 79.72 L202.56 80.88 L202.82 82.04 L203.08 83.23 L203.34 84.44 L203.6 85.67 L203.86 86.94 L204.12 88.24 L204.4 89.61 L204.68 91.07 L204.97 92.58 L205.26 94.11 L205.54 95.62 L205.82 97.09 L206.08 98.47 L206.32 99.73 L206.54 100.85 L206.73 101.85 L206.91 102.77 L207.09 103.64 L207.26 104.49 L207.43 105.35 L207.62 106.26 L207.83 107.25 L208.07 108.37 L208.34 109.61 L208.63 110.92 L208.92 112.23 L209.2 113.48 L209.46 114.61 L209.67 115.56 L209.83 116.26" fill="none" stroke="#e8e4fe" stroke-width="3" opacity="0.9" filter="url(#b08)"/>
</g></g>
<path d="M138 100 L138.27 99.15 L138.63 98.04 L139.06 96.7 L139.54 95.22 L140.05 93.65 L140.56 92.04 L141.05 90.47 L141.5 89 L141.92 87.59 L142.33 86.18 L142.73 84.77 L143.14 83.34 L143.54 81.91 L143.95 80.46 L144.37 78.99 L144.8 77.5 L145.25 75.95 L145.73 74.33 L146.22 72.67 L146.71 71 L147.2 69.37 L147.66 67.8 L148.1 66.33 L148.5 65 L148.86 63.82 L149.18 62.75 L149.48 61.78 L149.76 60.88 L150.02 60.02 L150.28 59.19 L150.54 58.36 L150.8 57.5 L151.07 56.63 L151.33 55.78 L151.58 54.94 L151.83 54.12 L152.08 53.31 L152.32 52.52 L152.56 51.75 L152.8 51 L153.03 50.27 L153.26 49.57 L153.49 48.88 L153.71 48.21 L153.93 47.55 L154.15 46.9 L154.37 46.25 L154.6 45.6 L154.83 44.95 L155.07 44.3 L155.3 43.66 L155.54 43.03 L155.78 42.39 L156.02 41.76 L156.26 41.13 L156.5 40.5 L156.74 39.86 L156.99 39.21 L157.23 38.56 L157.48 37.92 L157.73 37.28 L157.98 36.66 L158.24 36.07 L158.5 35.5 L158.77 34.96 L159.04 34.45 L159.31 33.97 L159.59 33.49 L159.87 33.04 L160.15 32.59 L160.42 32.14 L160.7 31.7 L160.97 31.26 L161.25 30.82 L161.52 30.4 L161.8 29.97 L162.07 29.56 L162.35 29.16 L162.62 28.78 L162.9 28.4 L163.18 28.04 L163.45 27.68 L163.72 27.34 L164 27.01 L164.28 26.69 L164.55 26.38 L164.83 26.08 L165.1 25.8 L165.37 25.54 L165.63 25.29 L165.89 25.06 L166.16 24.84 L166.42 24.63 L166.7 24.42 L166.99 24.21 L167.3 24 L167.62 23.78 L167.95 23.55 L168.3 23.32 L168.65 23.09 L169.02 22.87 L169.4 22.67 L169.79 22.47 L170.2 22.3 L170.64 22.14 L171.11 21.99 L171.59 21.85 L172.09 21.73 L172.59 21.61 L173.09 21.52 L173.56 21.45 L174 21.4 L174.41 21.37 L174.81 21.37 L175.19 21.38 L175.56 21.41 L175.92 21.46 L176.28 21.53 L176.64 21.61 L177 21.7 L177.36 21.8 L177.71 21.92 L178.06 22.05 L178.41 22.19 L178.76 22.36 L179.1 22.55 L179.45 22.76 L179.8 23 L180.15 23.26 L180.5 23.54 L180.85 23.84 L181.2 24.17 L181.55 24.52 L181.9 24.91 L182.25 25.33 L182.6 25.8 L182.95 26.32 L183.31 26.9 L183.67 27.52 L184.03 28.17 L184.39 28.84 L184.74 29.51 L185.07 30.16 L185.4 30.8 L185.71 31.41 L186.01 32.02 L186.3 32.62 L186.58 33.22 L186.86 33.82 L187.14 34.44 L187.42 35.06 L187.7 35.7 L187.99 36.36 L188.27 37.03 L188.56 37.71 L188.84 38.4 L189.13 39.1 L189.42 39.8 L189.71 40.5 L190 41.2 L190.3 41.9 L190.6 42.62 L190.9 43.34 L191.21 44.06 L191.51 44.78 L191.81 45.49 L192.11 46.2 L192.4 46.9 L192.68 47.59 L192.96 48.27 L193.24 48.94 L193.51 49.61 L193.78 50.28 L194.05 50.95 L194.33 51.62 L194.6 52.3 L194.87 52.98 L195.15 53.65 L195.42 54.32 L195.69 54.99 L195.96 55.67 L196.24 56.36 L196.52 57.07 L196.8 57.8 L197.09 58.56 L197.4 59.36 L197.71 60.18 L198.03 61.01 L198.34 61.83 L198.64 62.65 L198.93 63.44 L199.2 64.2 L199.45 64.9 L199.68 65.54 L199.9 66.15 L200.11 66.76 L200.32 67.38 L200.54 68.04 L200.76 68.77 L201 69.6 L201.26 70.52 L201.52 71.52 L201.8 72.58 L202.08 73.68 L202.36 74.82 L202.65 75.98 L202.93 77.14 L203.2 78.3 L203.47 79.45 L203.73 80.61 L203.99 81.79 L204.25 82.98 L204.51 84.19 L204.77 85.42 L205.03 86.69 L205.3 88 L205.58 89.38 L205.86 90.84 L206.15 92.36 L206.44 93.89 L206.72 95.4 L207 96.86 L207.26 98.24 L207.5 99.5 L207.72 100.62 L207.91 101.62 L208.09 102.54 L208.26 103.41 L208.43 104.25 L208.61 105.11 L208.79 106.02 L209 107 L209.24 108.11 L209.51 109.36 L209.8 110.66 L210.09 111.97 L210.37 113.22 L210.63 114.35 L210.84 115.3 L211 116" fill="none" stroke="#b0a8f0" stroke-width="4" opacity="0.75" filter="url(#b08)"/>
<path d="M138 100 L138.27 99.15 L138.63 98.04 L139.06 96.7 L139.54 95.22 L140.05 93.65 L140.56 92.04 L141.05 90.47 L141.5 89 L141.92 87.59 L142.33 86.18 L142.73 84.77 L143.14 83.34 L143.54 81.91 L143.95 80.46 L144.37 78.99 L144.8 77.5 L145.25 75.95 L145.73 74.33 L146.22 72.67 L146.71 71 L147.2 69.37 L147.66 67.8 L148.1 66.33 L148.5 65 L148.86 63.82 L149.18 62.75 L149.48 61.78 L149.76 60.88 L150.02 60.02 L150.28 59.19 L150.54 58.36 L150.8 57.5 L151.07 56.63 L151.33 55.78 L151.58 54.94 L151.83 54.12 L152.08 53.31 L152.32 52.52 L152.56 51.75 L152.8 51 L153.03 50.27 L153.26 49.57 L153.49 48.88 L153.71 48.21 L153.93 47.55 L154.15 46.9 L154.37 46.25 L154.6 45.6 L154.83 44.95 L155.07 44.3 L155.3 43.66 L155.54 43.03 L155.78 42.39 L156.02 41.76 L156.26 41.13 L156.5 40.5 L156.74 39.86 L156.99 39.21 L157.23 38.56 L157.48 37.92 L157.73 37.28 L157.98 36.66 L158.24 36.07 L158.5 35.5 L158.77 34.96 L159.04 34.45 L159.31 33.97 L159.59 33.49 L159.87 33.04 L160.15 32.59 L160.42 32.14 L160.7 31.7 L160.97 31.26 L161.25 30.82 L161.52 30.4 L161.8 29.97 L162.07 29.56 L162.35 29.16 L162.62 28.78 L162.9 28.4 L163.18 28.04 L163.45 27.68 L163.72 27.34 L164 27.01 L164.28 26.69 L164.55 26.38 L164.83 26.08 L165.1 25.8 L165.37 25.54 L165.63 25.29 L165.89 25.06 L166.16 24.84 L166.42 24.63 L166.7 24.42 L166.99 24.21 L167.3 24 L167.62 23.78 L167.95 23.55 L168.3 23.32 L168.65 23.09 L169.02 22.87 L169.4 22.67 L169.79 22.47 L170.2 22.3 L170.64 22.14 L171.11 21.99 L171.59 21.85 L172.09 21.73 L172.59 21.61 L173.09 21.52 L173.56 21.45 L174 21.4 L174.41 21.37 L174.81 21.37 L175.19 21.38 L175.56 21.41 L175.92 21.46 L176.28 21.53 L176.64 21.61 L177 21.7 L177.36 21.8 L177.71 21.92 L178.06 22.05 L178.41 22.19 L178.76 22.36 L179.1 22.55 L179.45 22.76 L179.8 23 L180.15 23.26 L180.5 23.54 L180.85 23.84 L181.2 24.17 L181.55 24.52 L181.9 24.91 L182.25 25.33 L182.6 25.8 L182.95 26.32 L183.31 26.9 L183.67 27.52 L184.03 28.17 L184.39 28.84 L184.74 29.51 L185.07 30.16 L185.4 30.8 L185.71 31.41 L186.01 32.02 L186.3 32.62 L186.58 33.22 L186.86 33.82 L187.14 34.44 L187.42 35.06 L187.7 35.7 L187.99 36.36 L188.27 37.03 L188.56 37.71 L188.84 38.4 L189.13 39.1 L189.42 39.8 L189.71 40.5 L190 41.2 L190.3 41.9 L190.6 42.62 L190.9 43.34 L191.21 44.06 L191.51 44.78 L191.81 45.49 L192.11 46.2 L192.4 46.9 L192.68 47.59 L192.96 48.27 L193.24 48.94 L193.51 49.61 L193.78 50.28 L194.05 50.95 L194.33 51.62 L194.6 52.3 L194.87 52.98 L195.15 53.65 L195.42 54.32 L195.69 54.99 L195.96 55.67 L196.24 56.36 L196.52 57.07 L196.8 57.8 L197.09 58.56 L197.4 59.36 L197.71 60.18 L198.03 61.01 L198.34 61.83 L198.64 62.65 L198.93 63.44 L199.2 64.2 L199.45 64.9 L199.68 65.54 L199.9 66.15 L200.11 66.76 L200.32 67.38 L200.54 68.04 L200.76 68.77 L201 69.6 L201.26 70.52 L201.52 71.52 L201.8 72.58 L202.08 73.68 L202.36 74.82 L202.65 75.98 L202.93 77.14 L203.2 78.3 L203.47 79.45 L203.73 80.61 L203.99 81.79 L204.25 82.98 L204.51 84.19 L204.77 85.42 L205.03 86.69 L205.3 88 L205.58 89.38 L205.86 90.84 L206.15 92.36 L206.44 93.89 L206.72 95.4 L207 96.86 L207.26 98.24 L207.5 99.5 L207.72 100.62 L207.91 101.62 L208.09 102.54 L208.26 103.41 L208.43 104.25 L208.61 105.11 L208.79 106.02 L209 107 L209.24 108.11 L209.51 109.36 L209.8 110.66 L210.09 111.97 L210.37 113.22 L210.63 114.35 L210.84 115.3 L211 116" fill="none" stroke="#505062" stroke-width="0.95" opacity="0.75"/>
</g>
<g clip-path="url(#cc)"><path d="M203 78 L208.5 76 L216 100 L206 100 Z" fill="#b8b0ee" opacity="0.6" filter="url(#b2)"/><ellipse cx="210" cy="97" rx="4" ry="6" fill="#e0dcfc" opacity="0.7" filter="url(#b15)"/></g>
<text x="197.8" y="24.7" font-family="Liberation Serif, serif" font-size="15" fill="#fff">(c)</text>
<clipPath id="ce"><rect x="231.5" y="11.2" width="66.5" height="88.4"/></clipPath>
<rect x="230.3" y="10" width="68.2" height="90.3" fill="#fff"/>
<rect x="231.5" y="11.2" width="66.5" height="88.4" fill="#2f1774"/>
<clipPath id="bi2"><path d="M213.14 114.09 L213.41 113.24 L213.77 112.11 L214.2 110.75 L214.67 109.25 L215.17 107.66 L215.69 106.06 L216.18 104.51 L216.65 103.07 L217.09 101.72 L217.54 100.37 L217.99 99.03 L218.44 97.7 L218.88 96.39 L219.31 95.09 L219.74 93.82 L220.15 92.57 L220.54 91.35 L220.92 90.14 L221.3 88.93 L221.67 87.74 L222.03 86.55 L222.4 85.38 L222.77 84.21 L223.15 83.05 L223.54 81.9 L223.94 80.74 L224.34 79.58 L224.74 78.45 L225.13 77.35 L225.51 76.31 L225.86 75.34 L226.19 74.45 L226.49 73.65 L226.77 72.93 L227.03 72.28 L227.27 71.69 L227.5 71.14 L227.72 70.62 L227.93 70.13 L228.14 69.63 L228.35 69.13 L228.55 68.68 L228.74 68.28 L228.91 67.91 L229.07 67.55 L229.24 67.18 L229.42 66.77 L229.61 66.29 L229.82 65.75 L230.05 65.12 L230.29 64.43 L230.56 63.68 L230.84 62.89 L231.15 62.06 L231.5 61.21 L231.87 60.35 L232.28 59.5 L232.71 58.65 L233.16 57.8 L233.61 56.96 L234.07 56.13 L234.52 55.32 L234.95 54.54 L235.35 53.8 L235.71 53.09 L236.07 52.37 L236.42 51.62 L236.8 50.85 L237.2 50.05 L237.64 49.25 L238.13 48.43 L238.67 47.64 L239.23 46.91 L239.8 46.21 L240.4 45.52 L241.03 44.85 L241.69 44.21 L242.38 43.6 L243.1 43.02 L243.84 42.5 L244.6 42.03 L245.38 41.6 L246.18 41.22 L247.01 40.87 L247.87 40.58 L248.75 40.35 L249.65 40.19 L250.59 40.1 L251.54 40.12 L252.45 40.23 L253.32 40.42 L254.14 40.66 L254.92 40.95 L255.65 41.27 L256.34 41.61 L257.01 41.95 L257.68 42.32 L258.36 42.72 L259.05 43.17 L259.75 43.66 L260.45 44.2 L261.15 44.8 L261.84 45.46 L262.52 46.19 L263.19 46.96 L263.84 47.77 L264.47 48.62 L265.09 49.51 L265.71 50.44 L266.33 51.41 L266.95 52.42 L267.58 53.47 L268.23 54.57 L268.91 55.75 L269.61 56.99 L270.32 58.28 L271.02 59.61 L271.72 60.98 L272.39 62.37 L273.04 63.79 L273.66 65.23 L274.24 66.71 L274.8 68.2 L275.33 69.69 L275.86 71.18 L276.37 72.66 L276.89 74.12 L277.41 75.56 L277.96 77.02 L278.53 78.52 L279.11 80.04 L279.69 81.56 L280.26 83.07 L280.81 84.53 L281.34 85.95 L281.82 87.29 L282.28 88.57 L282.71 89.81 L283.11 91.01 L283.49 92.16 L283.85 93.25 L284.18 94.27 L284.48 95.22 L284.76 96.1 L285.01 96.88 L285.21 97.57 L285.39 98.17 L285.54 98.71 L285.68 99.21 L285.81 99.68 L285.94 100.16 L286.08 100.67 L286.23 101.17 L286.37 101.62 L286.5 102.07 L286.65 102.54 L286.8 103.07 L286.98 103.68 L287.18 104.39 L287.4 105.24 L287.68 106.31 L288.01 107.62 L288.37 109.06 L288.74 110.56 L289.1 112.02 L289.43 113.35 L289.71 114.47 L289.91 115.28 L289.91 196 L213.14 196 Z"/></clipPath>
<g clip-path="url(#ce)">
<g clip-path="url(#bi2)"><g>
<path d="M233.16 120.44 L233.43 119.58 L233.79 118.43 L234.22 117.08 L234.69 115.59 L235.19 114.02 L235.69 112.45 L236.17 110.94 L236.61 109.58 L237.03 108.3 L237.46 107.02 L237.9 105.72 L238.34 104.41 L238.79 103.08 L239.23 101.75 L239.68 100.41 L240.12 99.06 L240.55 97.71 L240.96 96.41 L241.35 95.15 L241.73 93.95 L242.08 92.8 L242.42 91.71 L242.75 90.68 L243.08 89.68 L243.43 88.65 L243.79 87.59 L244.16 86.52 L244.53 85.46 L244.9 84.44 L245.25 83.47 L245.58 82.57 L245.87 81.78 L246.11 81.14 L246.32 80.6 L246.51 80.13 L246.68 79.7 L246.86 79.27 L247.05 78.82 L247.26 78.32 L247.46 77.85 L247.6 77.54 L247.69 77.33 L247.8 77.08 L247.97 76.72 L248.2 76.23 L248.47 75.61 L248.78 74.9 L249.13 74.04 L249.5 73.08 L249.83 72.18 L250.1 71.4 L250.34 70.73 L250.54 70.16 L250.72 69.69 L250.86 69.34 L250.97 69.09 L251.12 68.77 L251.36 68.29 L251.67 67.71 L252.04 67.03 L252.45 66.28 L252.9 65.47 L253.38 64.59 L253.92 63.6 L254.48 62.51 L254.97 61.52 L255.35 60.73 L255.62 60.15 L255.8 59.8 L255.86 59.68 L255.8 59.78 L255.69 59.94 L255.72 59.9 L255.84 59.76 L255.94 59.65 L256 59.58 L256 59.58 L255.91 59.66 L255.71 59.81 L255.43 60.01 L255.19 60.16 L254.99 60.27 L254.74 60.39 L254.41 60.53 L253.95 60.68 L253.33 60.84 L252.5 60.99 L251.37 61.09 L250.08 61.07 L248.93 60.93 L248.04 60.74 L247.42 60.56 L247.04 60.42 L246.89 60.36 L246.95 60.39 L247.13 60.48 L247.29 60.57 L247.34 60.6 L247.31 60.58 L247.23 60.52 L247.13 60.44 L247.04 60.36 L246.96 60.29 L246.95 60.28 L247.03 60.36 L247.19 60.57 L247.43 60.89 L247.73 61.33 L248.1 61.89 L248.53 62.56 L249.01 63.33 L249.53 64.21 L250.1 65.16 L250.67 66.16 L251.25 67.19 L251.83 68.24 L252.38 69.29 L252.91 70.32 L253.4 71.34 L253.84 72.28 L254.23 73.21 L254.64 74.24 L255.08 75.41 L255.54 76.7 L256.03 78.11 L256.56 79.62 L257.13 81.22 L257.72 82.85 L258.32 84.44 L258.9 85.98 L259.49 87.52 L260.06 89.03 L260.62 90.49 L261.14 91.88 L261.62 93.18 L262.05 94.37 L262.45 95.5 L262.83 96.6 L263.2 97.68 L263.55 98.73 L263.88 99.74 L264.19 100.7 L264.48 101.61 L264.74 102.42 L264.94 103.06 L265.08 103.54 L265.2 103.95 L265.31 104.33 L265.42 104.74 L265.55 105.23 L265.72 105.82 L265.91 106.5 L266.1 107.17 L266.28 107.74 L266.42 108.21 L266.54 108.59 L266.64 108.95 L266.76 109.36 L266.91 109.88 L267.09 110.56 L267.33 111.51 L267.64 112.74 L267.99 114.14 L268.36 115.62 L268.72 117.07 L269.05 118.4 L269.33 119.52 L269.53 120.34" fill="none" stroke="#7a72c4" stroke-width="22" opacity="0.5" filter="url(#b4)"/>
<path d="M223.63 117.42 L223.9 116.56 L224.26 115.42 L224.68 114.07 L225.16 112.57 L225.66 110.99 L226.16 109.41 L226.65 107.88 L227.11 106.48 L227.54 105.17 L227.97 103.85 L228.42 102.53 L228.86 101.21 L229.31 99.89 L229.75 98.58 L230.18 97.27 L230.61 95.97 L231.02 94.68 L231.42 93.42 L231.8 92.19 L232.17 90.99 L232.53 89.83 L232.89 88.69 L233.24 87.6 L233.59 86.52 L233.96 85.44 L234.34 84.33 L234.72 83.22 L235.11 82.12 L235.49 81.07 L235.85 80.06 L236.19 79.13 L236.5 78.29 L236.77 77.57 L237.01 76.95 L237.23 76.39 L237.44 75.88 L237.64 75.4 L237.85 74.91 L238.06 74.42 L238.26 73.93 L238.43 73.53 L238.58 73.21 L238.72 72.89 L238.89 72.53 L239.09 72.1 L239.31 71.6 L239.56 71.03 L239.84 70.35 L240.13 69.59 L240.41 68.82 L240.67 68.08 L240.92 67.37 L241.16 66.69 L241.4 66.06 L241.64 65.47 L241.88 64.93 L242.15 64.35 L242.48 63.7 L242.85 62.99 L243.26 62.24 L243.7 61.45 L244.15 60.64 L244.6 59.8 L245.08 58.93 L245.54 58.03 L245.97 57.16 L246.34 56.39 L246.66 55.72 L246.94 55.16 L247.18 54.71 L247.38 54.38 L247.59 54.08 L247.87 53.72 L248.2 53.3 L248.54 52.92 L248.87 52.57 L249.18 52.26 L249.47 52.01 L249.71 51.82 L249.91 51.67 L250.15 51.53 L250.41 51.38 L250.67 51.26 L250.89 51.17 L251.06 51.11 L251.15 51.08 L251.14 51.08 L251 51.09 L250.77 51.09 L250.61 51.07 L250.56 51.06 L250.62 51.08 L250.79 51.15 L251.06 51.27 L251.42 51.44 L251.84 51.66 L252.24 51.88 L252.59 52.09 L252.9 52.29 L253.19 52.49 L253.47 52.71 L253.75 52.95 L254.05 53.23 L254.37 53.57 L254.73 53.98 L255.12 54.47 L255.54 55.05 L256 55.7 L256.49 56.44 L257 57.25 L257.55 58.13 L258.13 59.09 L258.73 60.12 L259.36 61.2 L260 62.33 L260.63 63.49 L261.26 64.68 L261.87 65.87 L262.45 67.07 L262.98 68.24 L263.48 69.41 L263.97 70.65 L264.47 71.98 L264.97 73.36 L265.47 74.81 L265.99 76.31 L266.54 77.84 L267.1 79.38 L267.67 80.9 L268.25 82.43 L268.83 83.96 L269.41 85.47 L269.97 86.96 L270.51 88.38 L271.01 89.74 L271.47 91 L271.89 92.2 L272.3 93.37 L272.68 94.51 L273.05 95.6 L273.39 96.65 L273.71 97.64 L274 98.57 L274.27 99.41 L274.49 100.12 L274.67 100.7 L274.81 101.2 L274.94 101.65 L275.07 102.11 L275.2 102.59 L275.34 103.12 L275.51 103.72 L275.69 104.31 L275.84 104.83 L275.98 105.28 L276.11 105.71 L276.24 106.15 L276.39 106.65 L276.56 107.27 L276.76 108.02 L277.02 109.03 L277.34 110.3 L277.7 111.72 L278.07 113.21 L278.43 114.66 L278.76 116 L279.03 117.12 L279.24 117.93" fill="none" stroke="#8880cc" stroke-width="12" opacity="0.45" filter="url(#b2)"/>
<path d="M217.91 115.6 L218.18 114.75 L218.54 113.61 L218.96 112.26 L219.44 110.76 L219.94 109.18 L220.45 107.58 L220.94 106.04 L221.4 104.62 L221.84 103.28 L222.28 101.95 L222.73 100.62 L223.18 99.3 L223.62 97.98 L224.06 96.68 L224.49 95.39 L224.9 94.12 L225.3 92.86 L225.69 91.63 L226.07 90.41 L226.44 89.22 L226.81 88.04 L227.17 86.88 L227.53 85.75 L227.9 84.63 L228.28 83.51 L228.67 82.37 L229.06 81.23 L229.45 80.12 L229.84 79.04 L230.21 78.02 L230.56 77.06 L230.87 76.2 L231.16 75.43 L231.42 74.76 L231.67 74.15 L231.89 73.59 L232.11 73.07 L232.32 72.57 L232.53 72.08 L232.74 71.58 L232.93 71.13 L233.11 70.74 L233.28 70.37 L233.45 70.01 L233.63 69.62 L233.82 69.19 L234.03 68.71 L234.26 68.14 L234.51 67.49 L234.76 66.8 L235.01 66.09 L235.27 65.36 L235.53 64.62 L235.81 63.88 L236.11 63.15 L236.42 62.43 L236.76 61.71 L237.15 60.95 L237.56 60.16 L238 59.36 L238.44 58.55 L238.89 57.74 L239.34 56.93 L239.77 56.13 L240.18 55.33 L240.57 54.55 L240.93 53.79 L241.28 53.06 L241.63 52.37 L241.98 51.73 L242.33 51.14 L242.72 50.57 L243.15 50 L243.62 49.43 L244.1 48.88 L244.59 48.36 L245.1 47.87 L245.6 47.42 L246.1 47.02 L246.6 46.67 L247.12 46.35 L247.67 46.05 L248.22 45.78 L248.77 45.55 L249.32 45.37 L249.84 45.23 L250.33 45.14 L250.77 45.1 L251.19 45.11 L251.62 45.16 L252.07 45.26 L252.54 45.4 L253.04 45.59 L253.56 45.82 L254.1 46.08 L254.66 46.36 L255.21 46.67 L255.74 46.98 L256.26 47.31 L256.77 47.67 L257.28 48.07 L257.79 48.51 L258.3 48.99 L258.82 49.54 L259.34 50.15 L259.88 50.82 L260.41 51.54 L260.96 52.33 L261.52 53.17 L262.09 54.06 L262.68 55.01 L263.28 56.02 L263.91 57.09 L264.57 58.23 L265.24 59.42 L265.91 60.65 L266.58 61.91 L267.24 63.2 L267.87 64.51 L268.47 65.81 L269.03 67.13 L269.58 68.5 L270.1 69.92 L270.62 71.36 L271.14 72.83 L271.65 74.32 L272.18 75.81 L272.72 77.29 L273.28 78.78 L273.86 80.3 L274.44 81.82 L275.02 83.34 L275.58 84.83 L276.13 86.28 L276.64 87.67 L277.12 88.97 L277.56 90.22 L277.98 91.43 L278.37 92.6 L278.74 93.73 L279.09 94.79 L279.42 95.8 L279.72 96.74 L279.99 97.6 L280.23 98.35 L280.42 98.99 L280.58 99.55 L280.72 100.05 L280.85 100.52 L280.98 101 L281.12 101.51 L281.28 102.06 L281.44 102.6 L281.58 103.08 L281.72 103.53 L281.86 103.98 L282 104.47 L282.17 105.03 L282.35 105.7 L282.57 106.51 L282.83 107.55 L283.16 108.84 L283.52 110.27 L283.89 111.76 L284.25 113.22 L284.58 114.55 L284.86 115.67 L285.06 116.48" fill="none" stroke="#9890d8" stroke-width="4" opacity="0.4" filter="url(#b1)"/>
</g></g>
<path d="M216 115 L216.27 114.15 L216.63 113.01 L217.06 111.66 L217.53 110.16 L218.03 108.57 L218.54 106.97 L219.04 105.43 L219.5 104 L219.94 102.66 L220.39 101.32 L220.83 99.98 L221.28 98.66 L221.72 97.34 L222.16 96.04 L222.59 94.76 L223 93.5 L223.4 92.26 L223.79 91.03 L224.16 89.82 L224.53 88.62 L224.9 87.45 L225.26 86.28 L225.63 85.13 L226 84 L226.38 82.86 L226.78 81.72 L227.17 80.57 L227.57 79.45 L227.96 78.37 L228.33 77.33 L228.68 76.37 L229 75.5 L229.29 74.72 L229.56 74.03 L229.81 73.4 L230.04 72.83 L230.27 72.3 L230.48 71.79 L230.69 71.3 L230.9 70.8 L231.1 70.33 L231.29 69.91 L231.46 69.54 L231.63 69.17 L231.8 68.79 L231.99 68.39 L232.18 67.93 L232.4 67.4 L232.63 66.79 L232.87 66.13 L233.12 65.43 L233.38 64.69 L233.66 63.92 L233.95 63.15 L234.26 62.37 L234.6 61.6 L234.97 60.82 L235.37 60.03 L235.8 59.22 L236.24 58.4 L236.69 57.58 L237.14 56.77 L237.58 55.98 L238 55.2 L238.39 54.44 L238.77 53.68 L239.13 52.92 L239.49 52.18 L239.86 51.45 L240.24 50.74 L240.65 50.05 L241.1 49.4 L241.58 48.77 L242.09 48.14 L242.62 47.54 L243.17 46.96 L243.73 46.41 L244.31 45.89 L244.9 45.42 L245.5 45 L246.11 44.62 L246.75 44.27 L247.4 43.95 L248.07 43.68 L248.74 43.45 L249.4 43.28 L250.06 43.16 L250.7 43.1 L251.33 43.11 L251.95 43.19 L252.57 43.32 L253.18 43.51 L253.79 43.73 L254.4 44 L255 44.29 L255.6 44.6 L256.2 44.93 L256.79 45.28 L257.38 45.66 L257.96 46.07 L258.55 46.52 L259.13 47.03 L259.71 47.58 L260.3 48.2 L260.88 48.88 L261.46 49.6 L262.04 50.38 L262.61 51.2 L263.19 52.08 L263.78 53 L264.38 53.98 L265 55 L265.64 56.09 L266.31 57.24 L266.99 58.45 L267.67 59.7 L268.36 60.99 L269.03 62.31 L269.68 63.65 L270.3 65 L270.88 66.37 L271.44 67.79 L271.98 69.23 L272.51 70.69 L273.02 72.17 L273.54 73.66 L274.06 75.13 L274.6 76.6 L275.16 78.08 L275.73 79.59 L276.31 81.11 L276.89 82.63 L277.46 84.13 L278 85.58 L278.52 86.98 L279 88.3 L279.45 89.56 L279.87 90.78 L280.27 91.97 L280.64 93.1 L281 94.18 L281.32 95.19 L281.62 96.13 L281.9 97 L282.14 97.76 L282.34 98.42 L282.5 99 L282.65 99.51 L282.78 100 L282.91 100.47 L283.05 100.97 L283.2 101.5 L283.35 102.02 L283.5 102.5 L283.63 102.95 L283.78 103.41 L283.92 103.91 L284.09 104.49 L284.28 105.17 L284.5 106 L284.77 107.06 L285.1 108.35 L285.46 109.79 L285.83 111.28 L286.19 112.74 L286.52 114.07 L286.8 115.19 L287 116" fill="none" stroke="#14141c" stroke-width="0.95" opacity="0.55"/>
</g>
<g clip-path="url(#ce)"><path d="M229.96 51.15 L230.15 50.78 L230.41 50.24 L230.77 49.47 L231.22 48.56 L231.74 47.54 L232.33 46.45 L233.02 45.29 L233.78 44.16 L234.51 43.2 L235.21 42.34 L235.96 41.48 L236.76 40.64 L237.6 39.82 L238.51 39.01 L239.5 38.22 L240.53 37.49 L241.58 36.85 L242.63 36.27 L243.74 35.74 L244.9 35.26 L246.13 34.84 L247.44 34.49 L248.84 34.24 L250.37 34.11 L251.95 34.13 L253.46 34.31 L254.83 34.61 L256.06 34.98 L257.17 35.39 L258.15 35.82 L259.03 36.24 L259.84 36.66 L260.65 37.11 L261.51 37.62 L262.41 38.19 L263.33 38.84 L264.25 39.56 L265.18 40.36 L266.09 41.23 L266.97 42.16 L267.81 43.13 L268.6 44.12 L269.34 45.12 L270.05 46.13 L270.74 47.17 L271.41 48.22 L272.07 49.3 L272.73 50.4 L273.41 51.55 L274.12 52.78 L274.85 54.07 L275.6 55.43 L276.35 56.85 L277.09 58.31 L277.82 59.81 L278.53 61.36 L279.21 62.96 L279.84 64.56 L280.43 66.14 L280.99 67.69 L281.52 69.2 L282.03 70.67 L282.53 72.09 L283.04 73.47 L283.58 74.9 L284.14 76.39 L284.72 77.91 L285.3 79.43 L285.87 80.95 L286.43 82.43 L286.97 83.88 L287.47 85.26 L287.94 86.59 L288.38 87.87 L288.8 89.11 L289.19 90.28 L289.56 91.4 L289.89 92.44 L290.2 93.4 L290.48 94.29 L290.74 95.11 L290.97 95.86 L291.16 96.52 L291.32 97.11 L291.46 97.63 L291.59 98.09 L291.71 98.54 L291.85 99 L291.98 99.45 L292.11 99.87 L292.24 100.32 L292.39 100.81 L292.56 101.39 L292.75 102.05 L292.97 102.82 L293.21 103.72 L293.49 104.83 L293.83 106.15 L294.19 107.61 L294.57 109.11 L294.93 110.58 L295.26 111.91 L295.53 113.03 L295.73 113.83" fill="none" stroke="#8c84d0" stroke-width="8" opacity="0.4" filter="url(#b4)"/><ellipse cx="252" cy="96" rx="20" ry="22" fill="#8880cc" opacity="0.4" filter="url(#b4)"/></g>
<g clip-path="url(#ce)"><ellipse cx="248" cy="29" rx="22" ry="13" fill="#9c94dc" opacity="0.6" filter="url(#b4)"/><rect x="228" y="28" width="6" height="75" fill="#8e86d0" opacity="0.5" filter="url(#b2)"/><ellipse cx="249.5" cy="26.5" rx="18" ry="9.5" fill="#d0caf8" opacity="0.75" filter="url(#b2)"/><ellipse cx="250.6" cy="25.7" rx="15.6" ry="8" fill="#ffffff" opacity="0.97" filter="url(#b15)"/><path d="M238.2 26.5 C238.2 22.3 243 20.3 248 21.1 C252 21.7 255 19.5 259.5 20.3 C263.8 21.1 264 25.5 261.8 27.8 C258.7 30.7 252 30.9 246 30.5 C241 30.2 238.2 29.2 238.2 26.5 Z" fill="#f28838" filter="url(#b05)"/><ellipse cx="250" cy="24.4" rx="8" ry="2.8" fill="#f8b47a" opacity="0.8" filter="url(#b08)"/></g>
<text x="275.5" y="26.2" font-family="Liberation Serif, serif" font-size="15" fill="#fff">(e)</text>
<clipPath id="cd"><rect x="160.6" y="130.4" width="60.9" height="88.9"/></clipPath>
<rect x="153.5" y="129.5" width="68.5" height="90.1" fill="#fff"/>
<rect x="160.6" y="130.4" width="60.9" height="88.9" fill="#2f1774"/>
<clipPath id="bi3"><path d="M146.84 231.71 L147.11 230.62 L147.48 229.15 L147.91 227.4 L148.4 225.46 L148.91 223.43 L149.41 221.4 L149.9 219.46 L150.34 217.71 L150.73 216.11 L151.12 214.55 L151.5 213.02 L151.87 211.52 L152.23 210.05 L152.6 208.59 L152.97 207.14 L153.34 205.7 L153.71 204.26 L154.09 202.82 L154.47 201.39 L154.85 199.97 L155.23 198.59 L155.6 197.23 L155.98 195.92 L156.35 194.65 L156.72 193.45 L157.1 192.29 L157.47 191.19 L157.84 190.12 L158.2 189.09 L158.56 188.06 L158.91 187.04 L159.26 186.02 L159.61 184.99 L159.94 183.97 L160.27 182.95 L160.6 181.94 L160.94 180.94 L161.27 179.93 L161.61 178.92 L161.97 177.9 L162.33 176.88 L162.7 175.88 L163.08 174.88 L163.46 173.89 L163.84 172.89 L164.22 171.88 L164.59 170.85 L164.97 169.81 L165.34 168.72 L165.71 167.6 L166.08 166.46 L166.45 165.3 L166.83 164.13 L167.2 162.97 L167.58 161.82 L167.97 160.7 L168.36 159.6 L168.76 158.48 L169.17 157.37 L169.58 156.28 L169.98 155.22 L170.37 154.2 L170.74 153.24 L171.08 152.36 L171.41 151.55 L171.71 150.81 L171.99 150.13 L172.26 149.49 L172.53 148.88 L172.79 148.3 L173.05 147.73 L173.32 147.17 L173.59 146.62 L173.86 146.09 L174.13 145.56 L174.41 145.06 L174.68 144.58 L174.96 144.12 L175.25 143.68 L175.55 143.27 L175.85 142.9 L176.16 142.56 L176.47 142.25 L176.78 141.97 L177.1 141.72 L177.42 141.5 L177.73 141.31 L178.05 141.13 L178.37 140.98 L178.71 140.84 L179.06 140.73 L179.42 140.64 L179.78 140.59 L180.15 140.56 L180.52 140.57 L180.89 140.62 L181.26 140.69 L181.61 140.8 L181.96 140.93 L182.3 141.09 L182.64 141.28 L182.97 141.5 L183.29 141.74 L183.61 142.01 L183.92 142.32 L184.23 142.65 L184.52 143 L184.8 143.37 L185.08 143.74 L185.35 144.13 L185.63 144.53 L185.9 144.93 L186.18 145.36 L186.46 145.81 L186.75 146.27 L187.03 146.75 L187.32 147.23 L187.6 147.73 L187.88 148.22 L188.15 148.73 L188.43 149.24 L188.7 149.75 L188.97 150.27 L189.23 150.8 L189.49 151.34 L189.76 151.88 L190.02 152.43 L190.29 152.99 L190.56 153.57 L190.83 154.18 L191.11 154.8 L191.38 155.42 L191.65 156.03 L191.91 156.62 L192.16 157.18 L192.39 157.69 L192.58 158.08 L192.73 158.36 L192.88 158.61 L193.06 158.91 L193.27 159.29 L193.49 159.77 L193.74 160.39 L194.03 161.21 L194.38 162.24 L194.78 163.46 L195.21 164.83 L195.67 166.3 L196.13 167.84 L196.59 169.39 L197.04 170.92 L197.46 172.38 L197.85 173.79 L198.22 175.21 L198.59 176.62 L198.95 178.04 L199.31 179.46 L199.66 180.88 L200.01 182.3 L200.36 183.71 L200.72 185.12 L201.07 186.53 L201.42 187.94 L201.77 189.36 L202.12 190.77 L202.47 192.18 L202.82 193.6 L203.17 195.01 L203.52 196.44 L203.88 197.89 L204.24 199.35 L204.6 200.8 L204.95 202.24 L205.3 203.67 L205.64 205.06 L205.97 206.42 L206.29 207.76 L206.61 209.11 L206.92 210.45 L207.23 211.75 L207.52 213.01 L207.79 214.21 L208.04 215.32 L208.27 216.34 L208.47 217.21 L208.63 217.95 L208.77 218.59 L208.89 219.18 L209 219.75 L209.12 220.35 L209.24 221.02 L209.38 221.79 L209.54 222.73 L209.73 223.81 L209.91 224.97 L210.1 226.15 L210.28 227.28 L210.45 228.31 L210.58 229.18 L210.68 229.81 L210.68 312 L146.84 312 Z"/></clipPath>
<linearGradient id="fg3" gradientUnits="userSpaceOnUse" x1="0" y1="141" x2="0" y2="220"><stop offset="0" stop-color="#fff"/><stop offset="1" stop-color="#fff" stop-opacity="0.85"/></linearGradient>
<mask id="fm3" maskUnits="userSpaceOnUse" x="0" y="0" width="601" height="247"><rect x="0" y="0" width="601" height="247" fill="url(#fg3)"/></mask>
<g clip-path="url(#cd)">
<g clip-path="url(#bi3)"><g mask="url(#fm3)">
<linearGradient id="cg3" gradientUnits="userSpaceOnUse" x1="0" y1="141" x2="0" y2="182"><stop offset="0" stop-color="#e4e0fe" stop-opacity="0.9"/><stop offset="0.12" stop-color="#e4e0fe" stop-opacity="0.9"/><stop offset="0.46" stop-color="#a098e0" stop-opacity="0.65"/><stop offset="1" stop-color="#a098e0" stop-opacity="0"/></linearGradient>
<path d="M146.84 231.71 L147.11 230.62 L147.48 229.15 L147.91 227.4 L148.4 225.46 L148.91 223.43 L149.41 221.4 L149.9 219.46 L150.34 217.71 L150.73 216.11 L151.12 214.55 L151.5 213.02 L151.87 211.52 L152.23 210.05 L152.6 208.59 L152.97 207.14 L153.34 205.7 L153.71 204.26 L154.09 202.82 L154.47 201.39 L154.85 199.97 L155.23 198.59 L155.6 197.23 L155.98 195.92 L156.35 194.65 L156.72 193.45 L157.1 192.29 L157.47 191.19 L157.84 190.12 L158.2 189.09 L158.56 188.06 L158.91 187.04 L159.26 186.02 L159.61 184.99 L159.94 183.97 L160.27 182.95 L160.6 181.94 L160.94 180.94 L161.27 179.93 L161.61 178.92 L161.97 177.9 L162.33 176.88 L162.7 175.88 L163.08 174.88 L163.46 173.89 L163.84 172.89 L164.22 171.88 L164.59 170.85 L164.97 169.81 L165.34 168.72 L165.71 167.6 L166.08 166.46 L166.45 165.3 L166.83 164.13 L167.2 162.97 L167.58 161.82 L167.97 160.7 L168.36 159.6 L168.76 158.48 L169.17 157.37 L169.58 156.28 L169.98 155.22 L170.37 154.2 L170.74 153.24 L171.08 152.36 L171.41 151.55 L171.71 150.81 L171.99 150.13 L172.26 149.49 L172.53 148.88 L172.79 148.3 L173.05 147.73 L173.32 147.17 L173.59 146.62 L173.86 146.09 L174.13 145.56 L174.41 145.06 L174.68 144.58 L174.96 144.12 L175.25 143.68 L175.55 143.27 L175.85 142.9 L176.16 142.56 L176.47 142.25 L176.78 141.97 L177.1 141.72 L177.42 141.5 L177.73 141.31 L178.05 141.13 L178.37 140.98 L178.71 140.84 L179.06 140.73 L179.42 140.64 L179.78 140.59 L180.15 140.56 L180.52 140.57 L180.89 140.62 L181.26 140.69 L181.61 140.8 L181.96 140.93 L182.3 141.09 L182.64 141.28 L182.97 141.5 L183.29 141.74 L183.61 142.01 L183.92 142.32 L184.23 142.65 L184.52 143 L184.8 143.37 L185.08 143.74 L185.35 144.13 L185.63 144.53 L185.9 144.93 L186.18 145.36 L186.46 145.81 L186.75 146.27 L187.03 146.75 L187.32 147.23 L187.6 147.73 L187.88 148.22 L188.15 148.73 L188.43 149.24 L188.7 149.75 L188.97 150.27 L189.23 150.8 L189.49 151.34 L189.76 151.88 L190.02 152.43 L190.29 152.99 L190.56 153.57 L190.83 154.18 L191.11 154.8 L191.38 155.42 L191.65 156.03 L191.91 156.62 L192.16 157.18 L192.39 157.69 L192.58 158.08 L192.73 158.36 L192.88 158.61 L193.06 158.91 L193.27 159.29 L193.49 159.77 L193.74 160.39 L194.03 161.21 L194.38 162.24 L194.78 163.46 L195.21 164.83 L195.67 166.3 L196.13 167.84 L196.59 169.39 L197.04 170.92 L197.46 172.38 L197.85 173.79 L198.22 175.21 L198.59 176.62 L198.95 178.04 L199.31 179.46 L199.66 180.88 L200.01 182.3 L200.36 183.71 L200.72 185.12 L201.07 186.53 L201.42 187.94 L201.77 189.36 L202.12 190.77 L202.47 192.18 L202.82 193.6 L203.17 195.01 L203.52 196.44 L203.88 197.89 L204.24 199.35 L204.6 200.8 L204.95 202.24 L205.3 203.67 L205.64 205.06 L205.97 206.42 L206.29 207.76 L206.61 209.11 L206.92 210.45 L207.23 211.75 L207.52 213.01 L207.79 214.21 L208.04 215.32 L208.27 216.34 L208.47 217.21 L208.63 217.95 L208.77 218.59 L208.89 219.18 L209 219.75 L209.12 220.35 L209.24 221.02 L209.38 221.79 L209.54 222.73 L209.73 223.81 L209.91 224.97 L210.1 226.15 L210.28 227.28 L210.45 228.31 L210.58 229.18 L210.68 229.81 L210.68 312 L146.84 312 Z" fill="url(#cg3)" filter="url(#b1)"/>
<path d="M158.67 234.67 L158.95 233.57 L159.31 232.11 L159.75 230.36 L160.23 228.42 L160.74 226.39 L161.25 224.36 L161.73 222.42 L162.17 220.66 L162.58 219.05 L162.96 217.47 L163.34 215.94 L163.71 214.46 L164.07 213 L164.43 211.57 L164.78 210.17 L165.15 208.76 L165.52 207.34 L165.89 205.92 L166.26 204.52 L166.63 203.15 L166.99 201.82 L167.34 200.54 L167.69 199.32 L168.03 198.18 L168.36 197.12 L168.68 196.11 L169.02 195.12 L169.36 194.13 L169.71 193.12 L170.07 192.09 L170.45 191.01 L170.83 189.91 L171.19 188.82 L171.53 187.77 L171.87 186.75 L172.19 185.75 L172.52 184.78 L172.83 183.82 L173.15 182.88 L173.47 181.96 L173.8 181.06 L174.13 180.15 L174.49 179.2 L174.86 178.22 L175.25 177.2 L175.66 176.12 L176.07 175 L176.49 173.82 L176.9 172.61 L177.3 171.4 L177.69 170.2 L178.07 169.02 L178.44 167.88 L178.79 166.77 L179.14 165.72 L179.49 164.72 L179.85 163.71 L180.23 162.66 L180.61 161.6 L181 160.56 L181.38 159.55 L181.75 158.58 L182.1 157.68 L182.43 156.84 L182.73 156.1 L183 155.44 L183.24 154.84 L183.46 154.31 L183.67 153.83 L183.88 153.39 L184.08 152.96 L184.29 152.52 L184.51 152.06 L184.72 151.64 L184.91 151.28 L185.07 150.99 L185.2 150.77 L185.28 150.64 L185.3 150.6 L185.25 150.67 L185.14 150.81 L184.98 150.98 L184.79 151.17 L184.57 151.36 L184.34 151.55 L184.1 151.71 L183.89 151.84 L183.66 151.96 L183.33 152.12 L182.89 152.3 L182.37 152.47 L181.77 152.61 L181.1 152.71 L180.38 152.76 L179.64 152.74 L178.92 152.65 L178.28 152.52 L177.7 152.35 L177.17 152.15 L176.69 151.92 L176.27 151.69 L175.92 151.46 L175.64 151.24 L175.39 151.03 L175.16 150.81 L175.04 150.67 L175.01 150.64 L175.06 150.71 L175.17 150.86 L175.33 151.09 L175.54 151.39 L175.75 151.7 L175.93 151.99 L176.12 152.28 L176.32 152.6 L176.53 152.96 L176.75 153.33 L176.98 153.73 L177.21 154.14 L177.43 154.55 L177.65 154.95 L177.86 155.36 L178.08 155.79 L178.31 156.23 L178.54 156.7 L178.77 157.18 L179.01 157.68 L179.24 158.17 L179.47 158.66 L179.7 159.18 L179.95 159.74 L180.21 160.33 L180.48 160.93 L180.75 161.55 L181.02 162.16 L181.33 162.86 L181.74 163.68 L182.17 164.47 L182.44 164.92 L182.45 164.93 L182.33 164.7 L182.27 164.57 L182.33 164.71 L182.51 165.2 L182.8 166.06 L183.16 167.18 L183.57 168.47 L184 169.88 L184.45 171.35 L184.89 172.84 L185.32 174.3 L185.71 175.67 L186.07 176.98 L186.42 178.31 L186.77 179.66 L187.12 181.03 L187.47 182.41 L187.82 183.82 L188.17 185.25 L188.53 186.68 L188.88 188.08 L189.23 189.48 L189.58 190.88 L189.93 192.28 L190.27 193.69 L190.62 195.1 L190.97 196.51 L191.32 197.94 L191.68 199.37 L192.03 200.82 L192.39 202.27 L192.75 203.72 L193.1 205.15 L193.45 206.56 L193.78 207.93 L194.1 209.26 L194.42 210.58 L194.73 211.91 L195.04 213.23 L195.34 214.51 L195.63 215.75 L195.9 216.92 L196.14 218.01 L196.36 218.99 L196.55 219.85 L196.71 220.55 L196.83 221.13 L196.94 221.63 L197.03 222.1 L197.13 222.61 L197.24 223.21 L197.37 223.92 L197.52 224.78 L197.69 225.8 L197.87 226.92 L198.06 228.07 L198.23 229.19 L198.4 230.22 L198.53 231.09 L198.64 231.74" fill="none" stroke="#7870c4" stroke-width="9" opacity="0.35" filter="url(#b4)"/>
<path d="M154.79 233.7 L155.06 232.6 L155.43 231.14 L155.87 229.39 L156.35 227.45 L156.86 225.42 L157.37 223.39 L157.85 221.45 L158.29 219.69 L158.69 218.08 L159.08 216.51 L159.46 214.99 L159.83 213.49 L160.19 212.03 L160.55 210.59 L160.91 209.18 L161.28 207.76 L161.65 206.33 L162.02 204.9 L162.39 203.49 L162.76 202.11 L163.13 200.76 L163.49 199.46 L163.85 198.21 L164.2 197.02 L164.54 195.92 L164.88 194.86 L165.23 193.83 L165.58 192.82 L165.94 191.8 L166.3 190.77 L166.67 189.71 L167.03 188.63 L167.39 187.56 L167.73 186.52 L168.07 185.5 L168.39 184.5 L168.72 183.52 L169.04 182.55 L169.37 181.58 L169.7 180.63 L170.04 179.69 L170.39 178.75 L170.75 177.79 L171.12 176.8 L171.51 175.78 L171.91 174.73 L172.31 173.64 L172.71 172.5 L173.11 171.34 L173.5 170.15 L173.88 168.97 L174.26 167.8 L174.63 166.65 L174.99 165.53 L175.35 164.45 L175.71 163.41 L176.08 162.36 L176.47 161.29 L176.86 160.22 L177.25 159.16 L177.64 158.13 L178.02 157.15 L178.38 156.22 L178.71 155.37 L179.01 154.61 L179.29 153.92 L179.55 153.3 L179.79 152.73 L180.02 152.21 L180.24 151.72 L180.46 151.25 L180.69 150.76 L180.93 150.28 L181.16 149.82 L181.38 149.41 L181.58 149.04 L181.75 148.74 L181.89 148.5 L182 148.33 L182.07 148.24 L182.09 148.21 L182.09 148.22 L182.06 148.24 L182.02 148.28 L181.96 148.32 L181.91 148.36 L181.87 148.39 L181.82 148.41 L181.71 148.47 L181.52 148.54 L181.28 148.62 L181 148.69 L180.67 148.74 L180.31 148.76 L179.93 148.75 L179.57 148.71 L179.26 148.64 L178.98 148.56 L178.74 148.47 L178.53 148.37 L178.36 148.28 L178.23 148.19 L178.15 148.13 L178.08 148.07 L178.04 148.03 L178.05 148.04 L178.13 148.14 L178.25 148.3 L178.42 148.53 L178.62 148.81 L178.84 149.14 L179.08 149.48 L179.29 149.81 L179.51 150.16 L179.74 150.53 L179.98 150.92 L180.22 151.33 L180.46 151.76 L180.71 152.2 L180.95 152.64 L181.18 153.08 L181.42 153.52 L181.65 153.98 L181.89 154.45 L182.13 154.94 L182.37 155.44 L182.62 155.96 L182.86 156.47 L183.1 156.99 L183.35 157.54 L183.61 158.12 L183.87 158.72 L184.14 159.32 L184.41 159.93 L184.67 160.53 L184.96 161.16 L185.29 161.85 L185.64 162.47 L185.87 162.85 L185.93 162.95 L185.92 162.93 L185.95 163 L186.07 163.29 L186.29 163.89 L186.59 164.81 L186.97 165.96 L187.38 167.28 L187.83 168.71 L188.28 170.2 L188.73 171.71 L189.16 173.19 L189.56 174.59 L189.93 175.94 L190.29 177.29 L190.65 178.66 L191 180.05 L191.35 181.45 L191.7 182.86 L192.05 184.28 L192.41 185.7 L192.76 187.11 L193.11 188.51 L193.46 189.92 L193.81 191.32 L194.16 192.73 L194.51 194.14 L194.85 195.56 L195.2 196.98 L195.56 198.41 L195.92 199.86 L196.28 201.31 L196.64 202.76 L196.99 204.2 L197.33 205.61 L197.67 206.99 L197.99 208.33 L198.31 209.66 L198.63 210.99 L198.94 212.32 L199.24 213.61 L199.53 214.85 L199.8 216.03 L200.04 217.13 L200.27 218.12 L200.46 218.98 L200.62 219.7 L200.74 220.3 L200.85 220.82 L200.96 221.33 L201.06 221.87 L201.18 222.49 L201.31 223.22 L201.46 224.11 L201.63 225.14 L201.82 226.28 L202.01 227.44 L202.19 228.57 L202.35 229.59 L202.49 230.46 L202.59 231.11" fill="none" stroke="#9c94e0" stroke-width="6" opacity="0.45" filter="url(#b2)"/>
<path d="M151.49 232.87 L151.77 231.78 L152.13 230.31 L152.57 228.56 L153.06 226.62 L153.56 224.59 L154.07 222.56 L154.56 220.62 L154.99 218.87 L155.39 217.26 L155.78 215.7 L156.16 214.17 L156.53 212.68 L156.89 211.21 L157.25 209.76 L157.62 208.33 L157.98 206.9 L158.36 205.47 L158.73 204.04 L159.11 202.62 L159.48 201.23 L159.85 199.86 L160.22 198.53 L160.59 197.26 L160.95 196.04 L161.3 194.89 L161.66 193.8 L162.01 192.74 L162.37 191.7 L162.73 190.67 L163.09 189.65 L163.45 188.61 L163.81 187.55 L164.16 186.49 L164.5 185.46 L164.84 184.45 L165.16 183.44 L165.49 182.45 L165.82 181.46 L166.15 180.48 L166.49 179.5 L166.84 178.53 L167.2 177.56 L167.57 176.58 L167.95 175.59 L168.33 174.58 L168.72 173.55 L169.11 172.48 L169.5 171.38 L169.89 170.25 L170.27 169.1 L170.65 167.93 L171.02 166.76 L171.39 165.6 L171.76 164.47 L172.13 163.36 L172.5 162.29 L172.88 161.21 L173.27 160.13 L173.67 159.04 L174.07 157.96 L174.46 156.92 L174.85 155.92 L175.21 154.99 L175.55 154.12 L175.86 153.34 L176.15 152.63 L176.42 151.98 L176.67 151.39 L176.91 150.83 L177.15 150.3 L177.39 149.79 L177.64 149.28 L177.89 148.76 L178.14 148.27 L178.38 147.81 L178.6 147.39 L178.82 147.01 L179.02 146.68 L179.2 146.4 L179.36 146.18 L179.5 146.01 L179.63 145.87 L179.74 145.76 L179.85 145.66 L179.95 145.59 L180.05 145.52 L180.15 145.45 L180.26 145.4 L180.33 145.36 L180.36 145.35 L180.36 145.35 L180.34 145.35 L180.3 145.36 L180.24 145.36 L180.18 145.36 L180.12 145.35 L180.08 145.35 L180.07 145.34 L180.07 145.34 L180.09 145.35 L180.13 145.38 L180.2 145.42 L180.28 145.48 L180.37 145.56 L180.48 145.66 L180.61 145.81 L180.78 146.01 L180.97 146.25 L181.18 146.54 L181.41 146.87 L181.66 147.23 L181.9 147.6 L182.15 147.97 L182.39 148.35 L182.65 148.76 L182.9 149.19 L183.16 149.63 L183.42 150.09 L183.68 150.55 L183.94 151.02 L184.19 151.48 L184.44 151.96 L184.68 152.44 L184.93 152.94 L185.18 153.45 L185.43 153.97 L185.69 154.5 L185.94 155.03 L186.19 155.57 L186.45 156.14 L186.72 156.74 L186.99 157.35 L187.25 157.96 L187.52 158.56 L187.78 159.14 L188.04 159.72 L188.31 160.29 L188.58 160.77 L188.78 161.09 L188.89 161.28 L188.96 161.42 L189.08 161.66 L189.25 162.09 L189.5 162.78 L189.82 163.75 L190.21 164.93 L190.63 166.26 L191.08 167.71 L191.53 169.22 L191.99 170.75 L192.43 172.25 L192.83 173.67 L193.21 175.05 L193.58 176.43 L193.94 177.82 L194.3 179.22 L194.65 180.62 L195 182.04 L195.35 183.46 L195.71 184.88 L196.06 186.29 L196.41 187.69 L196.76 189.1 L197.11 190.51 L197.46 191.92 L197.81 193.33 L198.16 194.74 L198.5 196.16 L198.86 197.59 L199.22 199.04 L199.58 200.5 L199.94 201.95 L200.29 203.39 L200.64 204.81 L200.97 206.19 L201.3 207.54 L201.62 208.87 L201.93 210.21 L202.25 211.54 L202.55 212.84 L202.84 214.09 L203.11 215.28 L203.36 216.38 L203.59 217.38 L203.78 218.25 L203.94 218.97 L204.07 219.59 L204.19 220.14 L204.29 220.68 L204.4 221.24 L204.52 221.88 L204.66 222.63 L204.81 223.53 L204.99 224.59 L205.18 225.74 L205.36 226.91 L205.54 228.04 L205.71 229.06 L205.84 229.93 L205.95 230.57" fill="none" stroke="#c0b8f2" stroke-width="4.2" opacity="0.7" filter="url(#b1)"/>
<path d="M149.16 232.29 L149.44 231.2 L149.8 229.73 L150.24 227.98 L150.73 226.04 L151.23 224.01 L151.74 221.98 L152.23 220.04 L152.66 218.29 L153.06 216.69 L153.45 215.12 L153.83 213.6 L154.2 212.1 L154.56 210.63 L154.93 209.18 L155.29 207.74 L155.66 206.3 L156.04 204.86 L156.41 203.43 L156.79 202 L157.16 200.6 L157.54 199.22 L157.91 197.88 L158.28 196.59 L158.65 195.35 L159.01 194.17 L159.38 193.05 L159.74 191.96 L160.1 190.91 L160.46 189.88 L160.82 188.85 L161.18 187.83 L161.54 186.78 L161.88 185.74 L162.22 184.71 L162.55 183.7 L162.88 182.69 L163.21 181.69 L163.55 180.7 L163.88 179.7 L164.23 178.7 L164.59 177.7 L164.95 176.72 L165.33 175.73 L165.7 174.74 L166.08 173.73 L166.47 172.71 L166.85 171.67 L167.23 170.59 L167.61 169.49 L167.99 168.35 L168.36 167.19 L168.74 166.03 L169.11 164.87 L169.48 163.72 L169.86 162.59 L170.23 161.5 L170.62 160.41 L171.02 159.3 L171.42 158.2 L171.82 157.12 L172.22 156.07 L172.61 155.06 L172.97 154.11 L173.32 153.24 L173.63 152.45 L173.93 151.72 L174.2 151.06 L174.46 150.44 L174.72 149.86 L174.97 149.3 L175.22 148.76 L175.48 148.23 L175.74 147.69 L176 147.18 L176.25 146.69 L176.51 146.23 L176.75 145.8 L176.99 145.4 L177.23 145.04 L177.45 144.73 L177.68 144.45 L177.89 144.21 L178.11 144 L178.32 143.82 L178.52 143.66 L178.73 143.51 L178.94 143.38 L179.15 143.27 L179.35 143.17 L179.54 143.09 L179.71 143.04 L179.88 143 L180.04 142.97 L180.2 142.96 L180.35 142.97 L180.51 142.98 L180.67 143.02 L180.84 143.07 L181.02 143.14 L181.2 143.22 L181.39 143.33 L181.58 143.46 L181.78 143.61 L181.99 143.79 L182.2 143.99 L182.42 144.23 L182.65 144.5 L182.89 144.81 L183.13 145.14 L183.38 145.5 L183.64 145.88 L183.9 146.27 L184.16 146.66 L184.43 147.08 L184.7 147.52 L184.97 147.97 L185.24 148.43 L185.51 148.91 L185.78 149.39 L186.05 149.87 L186.31 150.36 L186.57 150.85 L186.82 151.36 L187.08 151.87 L187.34 152.39 L187.6 152.92 L187.85 153.46 L188.11 154.01 L188.38 154.57 L188.64 155.16 L188.91 155.77 L189.18 156.38 L189.45 156.99 L189.71 157.59 L189.97 158.16 L190.21 158.71 L190.45 159.19 L190.65 159.56 L190.83 159.85 L190.98 160.09 L191.12 160.35 L191.28 160.71 L191.49 161.24 L191.77 161.99 L192.1 162.99 L192.49 164.19 L192.92 165.55 L193.37 167.01 L193.83 168.53 L194.29 170.07 L194.73 171.58 L195.14 173.02 L195.53 174.42 L195.9 175.82 L196.27 177.22 L196.62 178.63 L196.98 180.04 L197.33 181.46 L197.68 182.88 L198.04 184.29 L198.39 185.7 L198.74 187.11 L199.09 188.52 L199.44 189.93 L199.79 191.34 L200.14 192.75 L200.49 194.17 L200.83 195.59 L201.19 197.02 L201.55 198.47 L201.91 199.92 L202.27 201.37 L202.62 202.82 L202.97 204.24 L203.31 205.63 L203.63 206.98 L203.95 208.32 L204.27 209.66 L204.58 210.99 L204.89 212.3 L205.18 213.55 L205.45 214.74 L205.7 215.85 L205.93 216.86 L206.12 217.73 L206.28 218.46 L206.42 219.09 L206.54 219.66 L206.65 220.21 L206.76 220.8 L206.88 221.45 L207.02 222.21 L207.18 223.13 L207.36 224.2 L207.55 225.35 L207.73 226.53 L207.91 227.66 L208.08 228.69 L208.21 229.55 L208.32 230.19" fill="none" stroke="#e0dcfc" stroke-width="3" opacity="0.85" filter="url(#b08)"/>
</g></g>
<path d="M148 232 L148.27 230.91 L148.64 229.44 L149.08 227.69 L149.56 225.75 L150.07 223.72 L150.58 221.69 L151.06 219.75 L151.5 218 L151.9 216.4 L152.29 214.84 L152.66 213.31 L153.03 211.81 L153.4 210.34 L153.76 208.88 L154.13 207.44 L154.5 206 L154.88 204.56 L155.25 203.12 L155.63 201.7 L156.01 200.29 L156.38 198.91 L156.76 197.56 L157.13 196.25 L157.5 195 L157.87 193.81 L158.24 192.67 L158.6 191.58 L158.97 190.52 L159.33 189.48 L159.69 188.46 L160.05 187.43 L160.4 186.4 L160.75 185.36 L161.08 184.34 L161.41 183.33 L161.74 182.32 L162.07 181.32 L162.41 180.31 L162.75 179.31 L163.1 178.3 L163.46 177.29 L163.83 176.3 L164.2 175.31 L164.58 174.31 L164.96 173.31 L165.34 172.3 L165.72 171.26 L166.1 170.2 L166.47 169.1 L166.85 167.98 L167.22 166.83 L167.59 165.66 L167.97 164.5 L168.34 163.34 L168.72 162.21 L169.1 161.1 L169.49 160 L169.89 158.89 L170.29 157.79 L170.7 156.7 L171.1 155.64 L171.49 154.63 L171.85 153.68 L172.2 152.8 L172.52 152 L172.82 151.27 L173.1 150.59 L173.36 149.96 L173.62 149.37 L173.88 148.8 L174.14 148.25 L174.4 147.7 L174.67 147.16 L174.93 146.63 L175.19 146.13 L175.46 145.64 L175.72 145.19 L175.98 144.76 L176.24 144.36 L176.5 144 L176.76 143.67 L177.03 143.38 L177.29 143.12 L177.55 142.89 L177.81 142.69 L178.07 142.51 L178.34 142.35 L178.6 142.2 L178.86 142.07 L179.12 141.97 L179.39 141.88 L179.65 141.82 L179.91 141.78 L180.17 141.76 L180.44 141.77 L180.7 141.8 L180.96 141.85 L181.22 141.93 L181.49 142.03 L181.75 142.16 L182.01 142.3 L182.28 142.48 L182.54 142.68 L182.8 142.9 L183.06 143.15 L183.32 143.44 L183.58 143.75 L183.84 144.09 L184.11 144.44 L184.37 144.82 L184.63 145.2 L184.9 145.6 L185.17 146.01 L185.45 146.44 L185.72 146.89 L186 147.36 L186.28 147.83 L186.55 148.32 L186.83 148.81 L187.1 149.3 L187.37 149.8 L187.63 150.3 L187.89 150.82 L188.16 151.34 L188.42 151.87 L188.68 152.4 L188.94 152.95 L189.2 153.5 L189.47 154.07 L189.74 154.67 L190.01 155.28 L190.28 155.9 L190.55 156.51 L190.81 157.1 L191.06 157.67 L191.3 158.2 L191.51 158.63 L191.69 158.96 L191.86 159.23 L192.02 159.5 L192.19 159.82 L192.39 160.24 L192.62 160.82 L192.9 161.6 L193.24 162.62 L193.64 163.83 L194.07 165.19 L194.52 166.66 L194.98 168.18 L195.44 169.73 L195.89 171.25 L196.3 172.7 L196.69 174.1 L197.06 175.51 L197.43 176.92 L197.79 178.34 L198.14 179.75 L198.49 181.17 L198.85 182.59 L199.2 184 L199.55 185.41 L199.91 186.82 L200.26 188.23 L200.61 189.64 L200.95 191.06 L201.3 192.47 L201.65 193.88 L202 195.3 L202.35 196.73 L202.71 198.18 L203.07 199.63 L203.43 201.09 L203.79 202.53 L204.14 203.95 L204.47 205.35 L204.8 206.7 L205.12 208.04 L205.44 209.39 L205.75 210.72 L206.06 212.02 L206.35 213.28 L206.62 214.48 L206.87 215.59 L207.1 216.6 L207.29 217.47 L207.45 218.21 L207.59 218.84 L207.71 219.42 L207.83 219.98 L207.94 220.57 L208.06 221.23 L208.2 222 L208.36 222.93 L208.54 224 L208.73 225.16 L208.92 226.34 L209.1 227.47 L209.26 228.5 L209.4 229.37 L209.5 230" fill="none" stroke="#a8a0ec" stroke-width="5" opacity="0.75" filter="url(#b08)"/>
<path d="M148 232 L148.27 230.91 L148.64 229.44 L149.08 227.69 L149.56 225.75 L150.07 223.72 L150.58 221.69 L151.06 219.75 L151.5 218 L151.9 216.4 L152.29 214.84 L152.66 213.31 L153.03 211.81 L153.4 210.34 L153.76 208.88 L154.13 207.44 L154.5 206 L154.88 204.56 L155.25 203.12 L155.63 201.7 L156.01 200.29 L156.38 198.91 L156.76 197.56 L157.13 196.25 L157.5 195 L157.87 193.81 L158.24 192.67 L158.6 191.58 L158.97 190.52 L159.33 189.48 L159.69 188.46 L160.05 187.43 L160.4 186.4 L160.75 185.36 L161.08 184.34 L161.41 183.33 L161.74 182.32 L162.07 181.32 L162.41 180.31 L162.75 179.31 L163.1 178.3 L163.46 177.29 L163.83 176.3 L164.2 175.31 L164.58 174.31 L164.96 173.31 L165.34 172.3 L165.72 171.26 L166.1 170.2 L166.47 169.1 L166.85 167.98 L167.22 166.83 L167.59 165.66 L167.97 164.5 L168.34 163.34 L168.72 162.21 L169.1 161.1 L169.49 160 L169.89 158.89 L170.29 157.79 L170.7 156.7 L171.1 155.64 L171.49 154.63 L171.85 153.68 L172.2 152.8 L172.52 152 L172.82 151.27 L173.1 150.59 L173.36 149.96 L173.62 149.37 L173.88 148.8 L174.14 148.25 L174.4 147.7 L174.67 147.16 L174.93 146.63 L175.19 146.13 L175.46 145.64 L175.72 145.19 L175.98 144.76 L176.24 144.36 L176.5 144 L176.76 143.67 L177.03 143.38 L177.29 143.12 L177.55 142.89 L177.81 142.69 L178.07 142.51 L178.34 142.35 L178.6 142.2 L178.86 142.07 L179.12 141.97 L179.39 141.88 L179.65 141.82 L179.91 141.78 L180.17 141.76 L180.44 141.77 L180.7 141.8 L180.96 141.85 L181.22 141.93 L181.49 142.03 L181.75 142.16 L182.01 142.3 L182.28 142.48 L182.54 142.68 L182.8 142.9 L183.06 143.15 L183.32 143.44 L183.58 143.75 L183.84 144.09 L184.11 144.44 L184.37 144.82 L184.63 145.2 L184.9 145.6 L185.17 146.01 L185.45 146.44 L185.72 146.89 L186 147.36 L186.28 147.83 L186.55 148.32 L186.83 148.81 L187.1 149.3 L187.37 149.8 L187.63 150.3 L187.89 150.82 L188.16 151.34 L188.42 151.87 L188.68 152.4 L188.94 152.95 L189.2 153.5 L189.47 154.07 L189.74 154.67 L190.01 155.28 L190.28 155.9 L190.55 156.51 L190.81 157.1 L191.06 157.67 L191.3 158.2 L191.51 158.63 L191.69 158.96 L191.86 159.23 L192.02 159.5 L192.19 159.82 L192.39 160.24 L192.62 160.82 L192.9 161.6 L193.24 162.62 L193.64 163.83 L194.07 165.19 L194.52 166.66 L194.98 168.18 L195.44 169.73 L195.89 171.25 L196.3 172.7 L196.69 174.1 L197.06 175.51 L197.43 176.92 L197.79 178.34 L198.14 179.75 L198.49 181.17 L198.85 182.59 L199.2 184 L199.55 185.41 L199.91 186.82 L200.26 188.23 L200.61 189.64 L200.95 191.06 L201.3 192.47 L201.65 193.88 L202 195.3 L202.35 196.73 L202.71 198.18 L203.07 199.63 L203.43 201.09 L203.79 202.53 L204.14 203.95 L204.47 205.35 L204.8 206.7 L205.12 208.04 L205.44 209.39 L205.75 210.72 L206.06 212.02 L206.35 213.28 L206.62 214.48 L206.87 215.59 L207.1 216.6 L207.29 217.47 L207.45 218.21 L207.59 218.84 L207.71 219.42 L207.83 219.98 L207.94 220.57 L208.06 221.23 L208.2 222 L208.36 222.93 L208.54 224 L208.73 225.16 L208.92 226.34 L209.1 227.47 L209.26 228.5 L209.4 229.37 L209.5 230" fill="none" stroke="#484858" stroke-width="0.95" opacity="0.7"/>
</g>
<g clip-path="url(#cd)"><path d="M207.98 214.49 L208.13 212.93 L208.32 210.8 L208.54 208.28 L208.79 205.55 L209.07 202.79 L209.37 200.18 L209.68 197.93 L209.99 196.26 L210.28 195.11 L210.57 194.24 L210.85 193.61 L211.12 193.11 L211.45 192.62 L211.87 192.04 L212.41 191.3 L213.04 190.4 L213.67 189.44 L214.24 188.54 L214.77 187.73 L215.23 187.09 L215.56 186.68 L215.63 186.61 L215.14 186.87 L213.9 187.1 L212.81 186.92 L212.56 186.8 L212.8 187 L213.27 187.47 L213.84 188.13 L214.45 188.89 L215.05 189.7 L215.55 190.38 L215.91 190.96 L216.28 191.68 L216.68 192.55 L217.07 193.5 L217.44 194.46 L217.78 195.38 L218.1 196.23 L218.37 196.88" fill="none" stroke="#8a82cc" stroke-width="10" opacity="0.5" filter="url(#b2)"/><path d="M204.49 214.15 L204.64 212.61 L204.83 210.49 L205.05 207.97 L205.31 205.22 L205.59 202.42 L205.89 199.74 L206.22 197.38 L206.57 195.52 L206.92 194.12 L207.3 193 L207.7 192.09 L208.11 191.33 L208.55 190.65 L209.04 189.97 L209.57 189.25 L210.14 188.44 L210.72 187.55 L211.31 186.64 L211.89 185.75 L212.46 184.95 L213.01 184.29 L213.48 183.84 L213.8 183.63 L213.9 183.6 L214.07 183.65 L214.51 183.9 L215.13 184.39 L215.81 185.07 L216.52 185.88 L217.22 186.75 L217.88 187.63 L218.45 188.44 L218.95 189.23 L219.43 190.15 L219.89 191.16 L220.32 192.2 L220.71 193.22 L221.06 194.15 L221.36 194.96 L221.61 195.57" fill="none" stroke="#b0a8ea" stroke-width="5.5" opacity="0.75" filter="url(#b15)"/><ellipse cx="204" cy="214" rx="5" ry="6" fill="#e0dcff" opacity="0.7" filter="url(#b2)"/></g>
<text x="197.8" y="147" font-family="Liberation Serif, serif" font-size="15" fill="#fff">(d)</text>
<clipPath id="cf"><rect x="231.5" y="130.4" width="62.2" height="88.9"/></clipPath>
<rect x="230.5" y="129.5" width="68" height="90.1" fill="#fff"/>
<rect x="231.5" y="130.4" width="62.2" height="88.9" fill="#2f1774"/>
<clipPath id="bi4"><path d="M224.64 235.02 L224.86 234.25 L225.16 233.22 L225.51 231.97 L225.91 230.59 L226.34 229.12 L226.79 227.63 L227.25 226.19 L227.69 224.85 L228.15 223.59 L228.63 222.36 L229.12 221.17 L229.6 220.02 L230.07 218.91 L230.52 217.84 L230.93 216.8 L231.31 215.8 L231.66 214.83 L231.97 213.91 L232.25 213.01 L232.54 212.1 L232.83 211.15 L233.14 210.14 L233.48 209.03 L233.87 207.83 L234.29 206.54 L234.72 205.2 L235.18 203.8 L235.65 202.34 L236.15 200.82 L236.67 199.24 L237.21 197.59 L237.78 195.9 L238.37 194.1 L239 192.17 L239.66 190.13 L240.34 188.05 L241.04 185.95 L241.74 183.89 L242.44 181.91 L243.13 180.06 L243.82 178.3 L244.51 176.57 L245.22 174.9 L245.92 173.29 L246.61 171.77 L247.27 170.35 L247.9 169.05 L248.5 167.88 L249.06 166.84 L249.59 165.93 L250.11 165.11 L250.63 164.39 L251.14 163.74 L251.66 163.16 L252.17 162.65 L252.7 162.16 L253.32 161.66 L254.02 161.19 L254.74 160.81 L255.48 160.52 L256.22 160.31 L256.92 160.18 L257.58 160.12 L258.2 160.1 L258.82 160.12 L259.48 160.18 L260.18 160.3 L260.92 160.5 L261.67 160.79 L262.42 161.17 L263.15 161.64 L263.79 162.16 L264.35 162.67 L264.86 163.2 L265.37 163.79 L265.87 164.44 L266.36 165.17 L266.86 165.97 L267.37 166.87 L267.91 167.9 L268.51 169.08 L269.15 170.42 L269.84 171.88 L270.55 173.45 L271.27 175.09 L271.98 176.76 L272.65 178.43 L273.28 180.08 L273.86 181.69 L274.41 183.28 L274.93 184.88 L275.43 186.5 L275.92 188.16 L276.41 189.88 L276.89 191.65 L277.39 193.52 L277.91 195.58 L278.44 197.82 L278.98 200.17 L279.52 202.54 L280.03 204.86 L280.51 207.06 L280.94 209.04 L281.32 210.74 L281.63 212.15 L281.89 213.32 L282.1 214.31 L282.28 215.17 L282.44 215.94 L282.59 216.67 L282.75 217.43 L282.92 218.27 L283.11 219.14 L283.29 219.97 L283.47 220.79 L283.65 221.6 L283.83 222.44 L284.02 223.32 L284.22 224.27 L284.43 225.29 L284.67 226.48 L284.94 227.83 L285.23 229.28 L285.53 230.75 L285.81 232.17 L286.06 233.45 L286.28 234.53 L286.43 235.32 L286.43 316 L224.64 316 Z"/></clipPath>
<g clip-path="url(#cf)">
<g clip-path="url(#bi4)"><g>
<path d="M240.48 239.64 L240.72 238.82 L241.03 237.75 L241.38 236.52 L241.76 235.19 L242.16 233.82 L242.56 232.49 L242.94 231.27 L243.28 230.27 L243.59 229.4 L243.95 228.48 L244.36 227.49 L244.8 226.43 L245.28 225.3 L245.79 224.09 L246.31 222.8 L246.81 221.47 L247.25 220.21 L247.64 219.06 L247.99 217.98 L248.3 216.97 L248.6 215.99 L248.9 215.01 L249.21 214.01 L249.57 212.89 L249.98 211.64 L250.41 210.3 L250.87 208.91 L251.34 207.46 L251.83 205.96 L252.34 204.4 L252.88 202.78 L253.44 201.09 L254.05 199.24 L254.69 197.27 L255.35 195.25 L256.01 193.22 L256.68 191.21 L257.33 189.3 L257.96 187.52 L258.55 185.92 L259.15 184.4 L259.76 182.88 L260.39 181.4 L261 179.98 L261.6 178.66 L262.17 177.45 L262.68 176.39 L263.12 175.52 L263.46 174.89 L263.69 174.5 L263.81 174.31 L263.82 174.29 L263.75 174.38 L263.65 174.5 L263.6 174.55 L263.53 174.61 L263.16 174.91 L262.47 175.36 L261.65 175.79 L260.77 176.15 L259.92 176.39 L259.17 176.53 L258.59 176.59 L258.2 176.6 L257.83 176.59 L257.31 176.54 L256.63 176.42 L255.84 176.2 L255 175.88 L254.18 175.46 L253.44 174.98 L252.98 174.62 L252.81 174.47 L252.7 174.35 L252.56 174.19 L252.48 174.08 L252.5 174.11 L252.64 174.33 L252.89 174.78 L253.24 175.46 L253.71 176.38 L254.26 177.51 L254.86 178.79 L255.48 180.17 L256.11 181.6 L256.72 183.05 L257.29 184.47 L257.81 185.83 L258.29 187.16 L258.76 188.51 L259.2 189.88 L259.64 191.29 L260.07 192.75 L260.51 194.3 L260.96 195.94 L261.41 197.65 L261.88 199.51 L262.38 201.59 L262.89 203.82 L263.41 206.12 L263.91 208.4 L264.39 210.58 L264.83 212.58 L265.21 214.31 L265.51 215.7 L265.76 216.81 L265.96 217.73 L266.12 218.54 L266.28 219.28 L266.43 220.02 L266.6 220.82 L266.79 221.71 L266.98 222.62 L267.17 223.48 L267.35 224.3 L267.52 225.1 L267.7 225.91 L267.88 226.75 L268.06 227.65 L268.27 228.62 L268.5 229.76 L268.77 231.08 L269.05 232.52 L269.34 233.97 L269.62 235.38 L269.88 236.66 L270.09 237.74 L270.25 238.54" fill="none" stroke="#8078c6" stroke-width="16" opacity="0.5" filter="url(#b4)"/>
<path d="M232.8 237.4 L233.03 236.61 L233.33 235.55 L233.69 234.32 L234.08 232.96 L234.49 231.54 L234.92 230.14 L235.33 228.81 L235.72 227.64 L236.11 226.58 L236.52 225.51 L236.97 224.43 L237.43 223.32 L237.91 222.2 L238.38 221.06 L238.85 219.89 L239.3 218.72 L239.69 217.6 L240.04 216.56 L240.36 215.57 L240.66 214.61 L240.95 213.64 L241.26 212.65 L241.59 211.6 L241.96 210.44 L242.37 209.17 L242.81 207.83 L243.26 206.43 L243.73 204.98 L244.23 203.47 L244.74 201.9 L245.28 200.27 L245.85 198.57 L246.45 196.75 L247.08 194.8 L247.74 192.77 L248.42 190.71 L249.1 188.66 L249.77 186.68 L250.44 184.8 L251.07 183.08 L251.71 181.44 L252.37 179.82 L253.03 178.25 L253.69 176.74 L254.33 175.32 L254.94 174.01 L255.52 172.83 L256.03 171.81 L256.48 170.99 L256.85 170.34 L257.17 169.85 L257.42 169.49 L257.64 169.22 L257.84 169 L258.06 168.78 L258.28 168.57 L258.39 168.48 L258.37 168.49 L258.3 168.53 L258.21 168.57 L258.12 168.59 L258.08 168.6 L258.1 168.6 L258.2 168.6 L258.31 168.6 L258.36 168.61 L258.35 168.6 L258.31 168.59 L258.24 168.56 L258.17 168.53 L258.14 168.51 L258.22 168.58 L258.41 168.75 L258.6 168.94 L258.77 169.15 L258.97 169.41 L259.22 169.77 L259.53 170.28 L259.91 170.94 L260.36 171.79 L260.88 172.84 L261.48 174.07 L262.12 175.44 L262.79 176.91 L263.46 178.44 L264.12 180 L264.74 181.54 L265.31 183.04 L265.84 184.51 L266.34 185.98 L266.83 187.46 L267.3 188.97 L267.76 190.53 L268.22 192.15 L268.68 193.86 L269.16 195.65 L269.65 197.6 L270.17 199.76 L270.7 202.05 L271.22 204.39 L271.73 206.69 L272.2 208.87 L272.64 210.87 L273.02 212.58 L273.33 213.98 L273.58 215.12 L273.78 216.08 L273.96 216.9 L274.11 217.66 L274.26 218.4 L274.43 219.18 L274.61 220.04 L274.8 220.93 L274.98 221.78 L275.16 222.59 L275.34 223.4 L275.52 224.23 L275.7 225.09 L275.9 226.01 L276.1 227.01 L276.34 228.17 L276.61 229.51 L276.9 230.95 L277.19 232.41 L277.47 233.82 L277.72 235.11 L277.94 236.18 L278.1 236.98" fill="none" stroke="#9890da" stroke-width="8" opacity="0.5" filter="url(#b2)"/>
<path d="M228.96 236.28 L229.19 235.5 L229.49 234.45 L229.84 233.21 L230.24 231.84 L230.66 230.4 L231.09 228.96 L231.53 227.58 L231.94 226.33 L232.36 225.17 L232.81 224.03 L233.27 222.9 L233.75 221.77 L234.22 220.65 L234.68 219.54 L235.13 218.44 L235.54 217.34 L235.91 216.3 L236.24 215.31 L236.54 214.37 L236.84 213.43 L237.13 212.47 L237.44 211.47 L237.77 210.39 L238.15 209.21 L238.57 207.93 L239 206.59 L239.46 205.19 L239.93 203.74 L240.43 202.22 L240.95 200.64 L241.49 199.01 L242.05 197.31 L242.65 195.5 L243.28 193.56 L243.94 191.53 L244.62 189.46 L245.31 187.39 L245.99 185.37 L246.67 183.44 L247.33 181.66 L248 179.96 L248.67 178.29 L249.36 176.67 L250.03 175.12 L250.69 173.65 L251.33 172.29 L251.93 171.05 L252.49 169.96 L252.99 169.04 L253.44 168.26 L253.85 167.62 L254.22 167.09 L254.58 166.64 L254.93 166.25 L255.29 165.89 L255.66 165.55 L256 165.27 L256.32 165.06 L256.63 164.9 L256.93 164.78 L257.23 164.69 L257.53 164.64 L257.86 164.61 L258.2 164.6 L258.55 164.61 L258.89 164.64 L259.21 164.7 L259.54 164.78 L259.85 164.9 L260.17 165.06 L260.5 165.27 L260.84 165.56 L261.2 165.89 L261.54 166.24 L261.88 166.62 L262.22 167.07 L262.58 167.61 L262.98 168.25 L263.42 169.03 L263.91 169.96 L264.47 171.07 L265.09 172.35 L265.76 173.77 L266.44 175.28 L267.14 176.86 L267.82 178.47 L268.46 180.08 L269.06 181.65 L269.61 183.18 L270.14 184.71 L270.64 186.24 L271.12 187.81 L271.6 189.42 L272.07 191.08 L272.55 192.82 L273.03 194.65 L273.54 196.65 L274.06 198.85 L274.6 201.16 L275.12 203.52 L275.63 205.83 L276.11 208.02 L276.55 210.01 L276.92 211.72 L277.23 213.12 L277.49 214.27 L277.69 215.25 L277.87 216.09 L278.03 216.85 L278.18 217.59 L278.34 218.36 L278.52 219.21 L278.71 220.09 L278.89 220.93 L279.07 221.74 L279.25 222.56 L279.43 223.39 L279.61 224.26 L279.81 225.19 L280.02 226.2 L280.26 227.37 L280.53 228.72 L280.82 230.17 L281.11 231.63 L281.39 233.05 L281.65 234.33 L281.86 235.4 L282.02 236.2" fill="none" stroke="#b0a8ea" stroke-width="3" opacity="0.55" filter="url(#b1)"/>
</g></g>
<path d="M237.2 208.9 L237.49 208.01 L237.87 206.85 L238.32 205.48 L238.82 203.93 L239.36 202.26 L239.94 200.52 L240.52 198.75 L241.1 197 L241.7 195.19 L242.33 193.25 L242.99 191.22 L243.67 189.14 L244.36 187.07 L245.05 185.04 L245.73 183.1 L246.4 181.3 L247.07 179.59 L247.75 177.91 L248.44 176.28 L249.12 174.71 L249.79 173.23 L250.43 171.86 L251.04 170.61 L251.6 169.5 L252.11 168.55 L252.58 167.74 L253.02 167.06 L253.42 166.49 L253.82 165.99 L254.21 165.56 L254.6 165.17 L255 164.8 L255.41 164.47 L255.81 164.2 L256.21 163.99 L256.61 163.83 L257 163.72 L257.4 163.65 L257.8 163.61 L258.2 163.6 L258.61 163.61 L259.02 163.65 L259.43 163.72 L259.84 163.83 L260.26 163.99 L260.67 164.2 L261.09 164.47 L261.5 164.8 L261.9 165.17 L262.28 165.56 L262.65 165.99 L263.03 166.49 L263.42 167.06 L263.84 167.74 L264.3 168.55 L264.8 169.5 L265.37 170.63 L265.99 171.92 L266.66 173.35 L267.36 174.88 L268.05 176.47 L268.74 178.09 L269.39 179.71 L270 181.3 L270.56 182.85 L271.09 184.39 L271.59 185.94 L272.08 187.52 L272.56 189.14 L273.04 190.81 L273.51 192.56 L274 194.4 L274.52 196.46 L275.07 198.79 L275.64 201.27 L276.2 203.77 L276.73 206.16 L277.2 208.33 L277.6 210.15 L277.9 211.5" fill="none" stroke="#8880d0" stroke-width="2.4" opacity="0.25" filter="url(#b08)"/>
<path d="M237.2 208.9 L237.49 208.01 L237.87 206.85 L238.32 205.48 L238.82 203.93 L239.36 202.26 L239.94 200.52 L240.52 198.75 L241.1 197 L241.7 195.19 L242.33 193.25 L242.99 191.22 L243.67 189.14 L244.36 187.07 L245.05 185.04 L245.73 183.1 L246.4 181.3 L247.07 179.59 L247.75 177.91 L248.44 176.28 L249.12 174.71 L249.79 173.23 L250.43 171.86 L251.04 170.61 L251.6 169.5 L252.11 168.55 L252.58 167.74 L253.02 167.06 L253.42 166.49 L253.82 165.99 L254.21 165.56 L254.6 165.17 L255 164.8 L255.41 164.47 L255.81 164.2 L256.21 163.99 L256.61 163.83 L257 163.72 L257.4 163.65 L257.8 163.61 L258.2 163.6 L258.61 163.61 L259.02 163.65 L259.43 163.72 L259.84 163.83 L260.26 163.99 L260.67 164.2 L261.09 164.47 L261.5 164.8 L261.9 165.17 L262.28 165.56 L262.65 165.99 L263.03 166.49 L263.42 167.06 L263.84 167.74 L264.3 168.55 L264.8 169.5 L265.37 170.63 L265.99 171.92 L266.66 173.35 L267.36 174.88 L268.05 176.47 L268.74 178.09 L269.39 179.71 L270 181.3 L270.56 182.85 L271.09 184.39 L271.59 185.94 L272.08 187.52 L272.56 189.14 L273.04 190.81 L273.51 192.56 L274 194.4 L274.52 196.46 L275.07 198.79 L275.64 201.27 L276.2 203.77 L276.73 206.16 L277.2 208.33 L277.6 210.15 L277.9 211.5" fill="none" stroke="#14141c" stroke-width="0.95" opacity="0.55"/>
</g>
<g clip-path="url(#cf)"><ellipse cx="258.2" cy="144.2" rx="7" ry="6" fill="#8880d0" opacity="0.8" filter="url(#b15)"/><ellipse cx="258.2" cy="143.6" rx="4" ry="3" fill="#aca4e8" opacity="0.75" filter="url(#b1)"/><path d="M253 147 L263.5 147 L261 164 L255.5 164 Z" fill="#7c74c4" opacity="0.65" filter="url(#b2)"/><ellipse cx="290" cy="210" rx="8" ry="12" fill="#9890d0" opacity="0.6" filter="url(#b2)"/><ellipse cx="258" cy="212" rx="14" ry="10" fill="#9088d0" opacity="0.35" filter="url(#b4)"/><rect x="229" y="150" width="4" height="70" fill="#9088d0" opacity="0.5" filter="url(#b1)"/></g>
<text x="277" y="147" font-family="Liberation Serif, serif" font-size="15" fill="#fff">(f)</text>
<rect x="153.8" y="10.7" width="68.6" height="89.4" fill="none" stroke="#8c8c8c" stroke-width="1.15"/>
<rect x="230.9" y="10.7" width="67.8" height="89.4" fill="none" stroke="#8c8c8c" stroke-width="1.15"/>
<rect x="153.7" y="129.8" width="68.7" height="90.1" fill="none" stroke="#8c8c8c" stroke-width="1.15"/>
<rect x="230.9" y="129.8" width="67.8" height="90.1" fill="none" stroke="#8c8c8c" stroke-width="1.15"/>
<g stroke="#555555" stroke-width="0.8"><line x1="150.5" y1="19" x2="153.3" y2="19"/><line x1="150.5" y1="29.86" x2="153.3" y2="29.86"/><line x1="150.5" y1="40.72" x2="153.3" y2="40.72"/><line x1="150.5" y1="51.58" x2="153.3" y2="51.58"/><line x1="150.5" y1="62.44" x2="153.3" y2="62.44"/><line x1="150.5" y1="73.3" x2="153.3" y2="73.3"/><line x1="150.5" y1="84.16" x2="153.3" y2="84.16"/><line x1="150.5" y1="95.02" x2="153.3" y2="95.02"/></g>
<g stroke="#555555" stroke-width="0.8"><line x1="150.5" y1="138.4" x2="153.3" y2="138.4"/><line x1="150.5" y1="149.26" x2="153.3" y2="149.26"/><line x1="150.5" y1="160.12" x2="153.3" y2="160.12"/><line x1="150.5" y1="170.98" x2="153.3" y2="170.98"/><line x1="150.5" y1="181.84" x2="153.3" y2="181.84"/><line x1="150.5" y1="192.7" x2="153.3" y2="192.7"/><line x1="150.5" y1="203.56" x2="153.3" y2="203.56"/><line x1="150.5" y1="214.42" x2="153.3" y2="214.42"/></g>
<text x="141.3" y="21.3" font-family="Liberation Sans, sans-serif" stroke="#1a1a1a" stroke-width="0.1" font-size="6.5" fill="#1a1a1a" text-anchor="middle" >0</text>
<text x="141.3" y="140.7" font-family="Liberation Sans, sans-serif" stroke="#1a1a1a" stroke-width="0.1" font-size="6.5" fill="#1a1a1a" text-anchor="middle" >0</text>
<text x="141.3" y="43.02" font-family="Liberation Sans, sans-serif" stroke="#1a1a1a" stroke-width="0.1" font-size="6.5" fill="#1a1a1a" text-anchor="middle" >0.4</text>
<text x="141.3" y="162.42" font-family="Liberation Sans, sans-serif" stroke="#1a1a1a" stroke-width="0.1" font-size="6.5" fill="#1a1a1a" text-anchor="middle" >0.4</text>
<text x="141.3" y="64.74" font-family="Liberation Sans, sans-serif" stroke="#1a1a1a" stroke-width="0.1" font-size="6.5" fill="#1a1a1a" text-anchor="middle" >0.8</text>
<text x="141.3" y="184.14" font-family="Liberation Sans, sans-serif" stroke="#1a1a1a" stroke-width="0.1" font-size="6.5" fill="#1a1a1a" text-anchor="middle" >0.8</text>
<text x="141.3" y="86.46" font-family="Liberation Sans, sans-serif" stroke="#1a1a1a" stroke-width="0.1" font-size="6.5" fill="#1a1a1a" text-anchor="middle" >1.2</text>
<text x="141.3" y="205.86" font-family="Liberation Sans, sans-serif" stroke="#1a1a1a" stroke-width="0.1" font-size="6.5" fill="#1a1a1a" text-anchor="middle" >1.2</text>
<g stroke="#555555" stroke-width="0.8"><line x1="162.1" y1="100.8" x2="162.1" y2="103.3"/><line x1="174.45" y1="100.8" x2="174.45" y2="103.3"/><line x1="186.8" y1="100.8" x2="186.8" y2="103.3"/><line x1="199.15" y1="100.8" x2="199.15" y2="103.3"/><line x1="211.5" y1="100.8" x2="211.5" y2="103.3"/></g>
<text x="162.1" y="112.4" font-family="Liberation Sans, sans-serif" stroke="#1a1a1a" stroke-width="0.1" font-size="6.5" fill="#1a1a1a" text-anchor="middle" >0.2</text>
<text x="174.4" y="112.4" font-family="Liberation Sans, sans-serif" stroke="#1a1a1a" stroke-width="0.1" font-size="6.5" fill="#1a1a1a" text-anchor="middle" >0</text>
<text x="186.8" y="112.4" font-family="Liberation Sans, sans-serif" stroke="#1a1a1a" stroke-width="0.1" font-size="6.5" fill="#1a1a1a" text-anchor="middle" >0.2</text>
<text x="199.2" y="112.4" font-family="Liberation Sans, sans-serif" stroke="#1a1a1a" stroke-width="0.1" font-size="6.5" fill="#1a1a1a" text-anchor="middle" >0.4</text>
<text x="211.5" y="112.4" font-family="Liberation Sans, sans-serif" stroke="#1a1a1a" stroke-width="0.1" font-size="6.5" fill="#1a1a1a" text-anchor="middle" >0.6</text>
<g stroke="#555555" stroke-width="0.8"><line x1="239.2" y1="100.8" x2="239.2" y2="103.3"/><line x1="251.4" y1="100.8" x2="251.4" y2="103.3"/><line x1="263.6" y1="100.8" x2="263.6" y2="103.3"/><line x1="275.8" y1="100.8" x2="275.8" y2="103.3"/><line x1="288" y1="100.8" x2="288" y2="103.3"/></g>
<text x="239.2" y="112.4" font-family="Liberation Sans, sans-serif" stroke="#1a1a1a" stroke-width="0.1" font-size="6.5" fill="#1a1a1a" text-anchor="middle" >0.2</text>
<text x="251.4" y="112.4" font-family="Liberation Sans, sans-serif" stroke="#1a1a1a" stroke-width="0.1" font-size="6.5" fill="#1a1a1a" text-anchor="middle" >0</text>
<text x="263.6" y="112.4" font-family="Liberation Sans, sans-serif" stroke="#1a1a1a" stroke-width="0.1" font-size="6.5" fill="#1a1a1a" text-anchor="middle" >0.2</text>
<text x="275.8" y="112.4" font-family="Liberation Sans, sans-serif" stroke="#1a1a1a" stroke-width="0.1" font-size="6.5" fill="#1a1a1a" text-anchor="middle" >0.4</text>
<text x="288" y="112.4" font-family="Liberation Sans, sans-serif" stroke="#1a1a1a" stroke-width="0.1" font-size="6.5" fill="#1a1a1a" text-anchor="middle" >0.6</text>
<g stroke="#555555" stroke-width="0.8"><line x1="154.4" y1="220.1" x2="154.4" y2="222.6"/><line x1="167.75" y1="220.1" x2="167.75" y2="222.6"/><line x1="181.1" y1="220.1" x2="181.1" y2="222.6"/><line x1="194.45" y1="220.1" x2="194.45" y2="222.6"/><line x1="207.8" y1="220.1" x2="207.8" y2="222.6"/><line x1="221.15" y1="220.1" x2="221.15" y2="222.6"/></g>
<text x="168" y="232.4" font-family="Liberation Sans, sans-serif" stroke="#1a1a1a" stroke-width="0.1" font-size="6.5" fill="#1a1a1a" text-anchor="middle" >0.2</text>
<text x="181.2" y="232.4" font-family="Liberation Sans, sans-serif" stroke="#1a1a1a" stroke-width="0.1" font-size="6.5" fill="#1a1a1a" text-anchor="middle" >0</text>
<text x="194.6" y="232.4" font-family="Liberation Sans, sans-serif" stroke="#1a1a1a" stroke-width="0.1" font-size="6.5" fill="#1a1a1a" text-anchor="middle" >0.2</text>
<text x="208" y="232.4" font-family="Liberation Sans, sans-serif" stroke="#1a1a1a" stroke-width="0.1" font-size="6.5" fill="#1a1a1a" text-anchor="middle" >0.4</text>
<g stroke="#555555" stroke-width="0.8"><line x1="231.9" y1="220.1" x2="231.9" y2="222.6"/><line x1="245" y1="220.1" x2="245" y2="222.6"/><line x1="258.1" y1="220.1" x2="258.1" y2="222.6"/><line x1="271.2" y1="220.1" x2="271.2" y2="222.6"/><line x1="284.3" y1="220.1" x2="284.3" y2="222.6"/><line x1="297.4" y1="220.1" x2="297.4" y2="222.6"/></g>
<text x="245.2" y="231.6" font-family="Liberation Sans, sans-serif" stroke="#1a1a1a" stroke-width="0.1" font-size="6.5" fill="#1a1a1a" text-anchor="middle" >0.2</text>
<text x="258.3" y="231.6" font-family="Liberation Sans, sans-serif" stroke="#1a1a1a" stroke-width="0.1" font-size="6.5" fill="#1a1a1a" text-anchor="middle" >0</text>
<text x="271.4" y="231.6" font-family="Liberation Sans, sans-serif" stroke="#1a1a1a" stroke-width="0.1" font-size="6.5" fill="#1a1a1a" text-anchor="middle" >0.2</text>
<text x="284.5" y="231.6" font-family="Liberation Sans, sans-serif" stroke="#1a1a1a" stroke-width="0.1" font-size="6.5" fill="#1a1a1a" text-anchor="middle" >0.4</text>
<text x="223.7" y="123.2" font-family="Liberation Sans, sans-serif" stroke="#1a1a1a" stroke-width="0.1" font-size="7.1" fill="#1a1a1a" text-anchor="middle">Momentum along ZU [Å<tspan font-size="4.6" dy="-2.6">-1</tspan><tspan dy="2.6">]</tspan></text>
<text x="223.3" y="242.5" font-family="Liberation Sans, sans-serif" stroke="#1a1a1a" stroke-width="0.1" font-size="7.1" fill="#1a1a1a" text-anchor="middle">Momentum along ZT [Å<tspan font-size="4.6" dy="-2.6">-1</tspan><tspan dy="2.6">]</tspan></text>
<text transform="translate(130.5,118.5) rotate(-90)" font-family="Liberation Sans, sans-serif" stroke="#1a1a1a" stroke-width="0.1" font-size="7.1" fill="#1a1a1a" text-anchor="middle">Binding energy [eV]</text>
<path d="M326.5 101.25 L327 101.25 L327.5 101.24 L328 101.24 L328.5 101.23 L329 101.23 L329.5 101.22 L330 101.21 L330.5 101.21 L331 101.2 L331.5 101.19 L332 101.19 L332.5 101.18 L333 101.17 L333.5 101.16 L334 101.15 L334.5 101.14 L335 101.12 L335.5 101.11 L336 101.09 L336.5 101.08 L337 101.06 L337.5 101.04 L338 101.02 L338.5 100.99 L339 100.96 L339.5 100.93 L340 100.9 L340.5 100.86 L341 100.82 L341.5 100.77 L342 100.72 L342.5 100.66 L343 100.6 L343.5 100.53 L344 100.45 L344.5 100.36 L345 100.26 L345.5 100.14 L346 99.99 L346.5 99.8 L347 99.57 L347.5 99.27 L348 98.89 L348.5 98.4 L349 97.79 L349.5 97.03 L350 96.1 L350.5 94.97 L351 93.63 L351.5 92.07 L352 90.29 L352.5 88.32 L353 86.18 L353.5 83.94 L354 81.64 L354.5 79.38 L355 77.25 L355.5 75.35 L356 73.78 L356.5 72.65 L357 72.03 L357.5 71.96 L358 72.45 L358.5 73.46 L359 74.92 L359.5 76.73 L360 78.79 L360.5 81.01 L361 83.27 L361.5 85.5 L362 87.63 L362.5 89.6 L363 91.38 L363.5 92.94 L364 94.28 L364.5 95.41 L365 96.33 L365.5 97.06 L366 97.64 L366.5 98.08 L367 98.41 L367.5 98.65 L368 98.81 L368.5 98.92 L369 98.99 L369.5 99.01 L370 99.01 L370.5 98.98 L371 98.92 L371.5 98.83 L372 98.71 L372.5 98.53 L373 98.28 L373.5 97.95 L374 97.5 L374.5 96.9 L375 96.09 L375.5 95.04 L376 93.68 L376.5 91.95 L377 89.78 L377.5 87.11 L378 83.9 L378.5 80.11 L379 75.72 L379.5 70.76 L380 65.29 L380.5 59.4 L381 53.24 L381.5 46.98 L382 40.85 L382.5 35.1 L383 30 L383.5 25.81 L384 22.81 L384.5 21.17 L385 21.02 L385.5 22.37 L386 25.13 L386.5 29.1 L387 34.05 L387.5 39.7 L388 45.78 L388.5 52.04 L389 58.25 L389.5 64.21 L390 69.79 L390.5 74.86 L391 79.37 L391.5 83.3 L392 86.63 L392.5 89.41 L393 91.69 L393.5 93.52 L394 94.96 L394.5 96.08 L395 96.95 L395.5 97.6 L396 98.1 L396.5 98.47 L397 98.75 L397.5 98.96 L398 99.13 L398.5 99.26 L399 99.36 L399.5 99.45 L400 99.52 L400.5 99.58 L401 99.63 L401.5 99.68 L402 99.73 L402.5 99.77 L403 99.8 L403.5 99.84 L404 99.87 L404.5 99.9 L405 99.93 L405.5 99.95 L406 99.97 L406.5 100 L407 100.02 L407.5 100.04 L408 100.06 L408.5 100.07 L409 100.09 L409.5 100.1 L410 100.12 L410.5 100.13 L411 100.15 L411.5 100.16 L412 100.17 L412.5 100.18 L413 100.19 L413.5 100.2 L414 100.21 L414.5 100.22 L415 100.23 L415.5 100.24 L416 100.24 L416.5 100.25 L417 100.26 L417.5 100.27 L418 100.27 L418.5 100.28 L419 100.29 L419.5 100.29 L420 100.3 L420.5 100.3 L421 100.31 L421.5 100.31" fill="none" stroke="#111" stroke-width="1.6" stroke-linejoin="round"/>
<path d="M393.8 10.2 H325.6 V101.9 H423 V10.2 H416.6" fill="none" stroke="#6e6e6e" stroke-width="0.9"/>
<g stroke="#6e6e6e" stroke-width="0.8"><line x1="326.3" y1="101.9" x2="326.3" y2="105.5"/><line x1="342.25" y1="101.9" x2="342.25" y2="104.5"/><line x1="358.2" y1="101.9" x2="358.2" y2="105.5"/><line x1="374.15" y1="101.9" x2="374.15" y2="104.5"/><line x1="390.1" y1="101.9" x2="390.1" y2="105.5"/><line x1="406.05" y1="101.9" x2="406.05" y2="104.5"/><line x1="422" y1="101.9" x2="422" y2="105.5"/></g>
<text x="326.3" y="113.9" font-family="Liberation Sans, sans-serif" stroke="#1a1a1a" stroke-width="0.1" font-size="6.5" fill="#1a1a1a" text-anchor="middle" >132</text>
<text x="358.2" y="113.9" font-family="Liberation Sans, sans-serif" stroke="#1a1a1a" stroke-width="0.1" font-size="6.5" fill="#1a1a1a" text-anchor="middle" >131</text>
<text x="390.1" y="113.9" font-family="Liberation Sans, sans-serif" stroke="#1a1a1a" stroke-width="0.1" font-size="6.5" fill="#1a1a1a" text-anchor="middle" >130</text>
<text x="422" y="113.9" font-family="Liberation Sans, sans-serif" stroke="#1a1a1a" stroke-width="0.1" font-size="6.5" fill="#1a1a1a" text-anchor="middle" >129</text>
<text x="398.8" y="13" font-family="Liberation Sans, sans-serif" stroke="#1a1a1a" stroke-width="0.2" font-size="7.9" fill="#1a1a1a">P2<tspan font-style="italic">p</tspan></text>
<text x="401.8" y="26.2" font-family="Liberation Serif, serif" font-size="15" fill="#111">(g)</text>
<text transform="translate(313.8,116.5) rotate(-90)" font-family="Liberation Sans, sans-serif" stroke="#1a1a1a" stroke-width="0.1" font-size="7.1" fill="#1a1a1a" text-anchor="middle">Photoemission intensity</text>
<path d="M326.8 212.97 L328.5 215.08 L330.2 212.85 L331.9 213.24 L333.6 214.85 L335.3 212.97 L337 214.7 L338.7 213.17 L340.4 214.39 L342.1 212.47 L343.8 214.99 L345.5 212.63 L347.2 214.55 L348.9 212.65 L350.6 214.36 L352.3 213.09 L354 214.95 L355.7 212.26 L357.4 212.67 L359.1 213.44 L360.8 209.99 L362.5 206.58 L364.2 204.74 L365.9 195.73 L367.6 190.7 L369.3 178.94 L371 174.06 L372.7 163.27 L374.4 166.57 L376.1 164.7 L377.8 173.41 L379.5 177.06 L381.2 190.62 L382.9 195.9 L384.6 205.2 L386.3 208.57 L388 209.21 L389.7 213.42 L391.4 212.32 L393.1 213.97 L394.8 211.6 L396.5 212.57 L398.2 209.48 L399.9 210.84 L401.6 208.01 L403.3 208.37 L405 205.97 L406.7 206.5 L408.4 203.72 L410.1 205.05 L411.8 201.71 L413.5 201.03 L415.2 201.76 L416.9 199.23 L418.6 200.54 L420.3 197.41 L422 196.47" fill="none" stroke="#111" stroke-width="1.25" stroke-linejoin="round"/>
<path d="M326.8 210.76 L328.05 217.2 L329.3 210.3 L330.55 216.03 L331.8 216.42 L333.05 215.12 L334.3 211.69 L335.55 216.04 L336.8 211.56 L338.05 216.6 L339.3 211.4 L340.55 214.42 L341.8 211.03 L343.05 215.6 L344.3 210.2 L345.55 208.27 L346.8 214.63 L348.05 207.76 L349.3 213.48 L350.55 205.82 L351.8 206.62 L353.05 209.35 L354.3 205.25 L355.55 208.11 L356.8 201.08 L358.05 204.04 L359.3 202.08 L360.55 194.32 L361.8 194.37 L363.05 189.71 L364.3 179.67 L365.55 179.66 L366.8 166.88 L368.05 163.39 L369.3 151.06 L370.55 150.62 L371.8 145.17 L373.05 135.33 L374.3 138.23 L375.55 132.14 L376.8 140.74 L378.05 138.42 L379.3 150.12 L380.55 152.05 L381.8 166.93 L383.05 169.66 L384.3 181.1 L385.55 184.86 L386.8 196.16 L388.05 196.26 L389.3 199.18 L390.55 206.66 L391.8 204.03 L393.05 210.65 L394.3 205.59 L395.55 211.64 L396.8 210.77 L398.05 205.52 L399.3 211.77 L400.55 205.97 L401.8 210.99 L403.05 204.9 L404.3 203.4 L405.55 203.74 L406.8 208.41 L408.05 202.87 L409.3 205.77 L410.55 199.94 L411.8 200.12 L413.05 204.23 L414.3 199.6 L415.55 204.11 L416.8 197.04 L418.05 202.35 L419.3 195.74 L420.55 201 L421.8 195.01" fill="none" stroke="#e01818" stroke-width="1.0" stroke-linejoin="miter" stroke-miterlimit="3"/>
<path d="M397 126.5 H326.6 V219.2 H422.9 V126.5 H416.5" fill="none" stroke="#6e6e6e" stroke-width="0.9"/>
<g stroke="#6e6e6e" stroke-width="0.8"><line x1="326.3" y1="219.2" x2="326.3" y2="222"/><line x1="343.3" y1="219.2" x2="343.3" y2="223"/><line x1="360.4" y1="219.2" x2="360.4" y2="222"/><line x1="377.4" y1="219.2" x2="377.4" y2="223"/><line x1="394.1" y1="219.2" x2="394.1" y2="222"/><line x1="411.5" y1="219.2" x2="411.5" y2="223"/></g>
<text x="343.6" y="232.7" font-family="Liberation Sans, sans-serif" stroke="#1a1a1a" stroke-width="0.1" font-size="6.6" fill="#1a1a1a" text-anchor="middle" >60</text>
<text x="378.1" y="232.7" font-family="Liberation Sans, sans-serif" stroke="#1a1a1a" stroke-width="0.1" font-size="6.6" fill="#1a1a1a" text-anchor="middle" >56</text>
<text x="412.2" y="232.7" font-family="Liberation Sans, sans-serif" stroke="#1a1a1a" stroke-width="0.1" font-size="6.6" fill="#1a1a1a" text-anchor="middle" >52</text>
<text x="376.4" y="241.7" font-family="Liberation Sans, sans-serif" stroke="#1a1a1a" stroke-width="0.1" font-size="7.1" fill="#1a1a1a" text-anchor="middle">Binding energy [eV]</text>
<text x="399.1" y="128.9" font-family="Liberation Sans, sans-serif" stroke="#1a1a1a" stroke-width="0.25" font-size="7.9" fill="#1a1a1a">Li1<tspan font-style="italic">s</tspan></text>
<text x="401.4" y="147.4" font-family="Liberation Serif, serif" font-size="15" fill="#111">(h)</text>
<text x="403.1" y="195" font-family="Liberation Sans, sans-serif" stroke="#1a1a1a" stroke-width="0.25" font-size="7.9" fill="#1a1a1a">P3<tspan font-style="italic">s</tspan></text>
<rect x="337" y="149.5" width="18.3" height="3" fill="#1e1e90"/><rect x="337" y="148" width="18.3" height="1.6" fill="#e01818"/>
<path d="M345.7 149.6 L345.7 144.5" stroke="#000" stroke-width="1.5"/><path d="M344 145.2 L345.7 141.9 L347.4 145.2 Z" fill="#000"/>
<ellipse cx="350" cy="146.4" rx="3.6" ry="0.95" transform="rotate(-40 350 146.4)" fill="#e01818"/>
<text x="348.3" y="141.7" font-family="Liberation Sans, sans-serif" font-size="8" font-style="italic" fill="#6a6a6a" stroke="#6a6a6a" stroke-width="0.12">e</text><line x1="351.6" y1="136.4" x2="353.4" y2="136.0" stroke="#aaa" stroke-width="0.6"/>
<line x1="482.3" y1="80" x2="482.3" y2="219" stroke="#9a9a9a" stroke-width="0.7" stroke-dasharray="0.8 0.9"/>
<path d="M450.3 146.7 L454.15 146.7 L459.74 146.71 L465.54 146.71 L470 146.7 L472.66 146.7 L474.37 146.7 L475.51 146.68 L476.5 146.6 L477.3 146.48 L477.74 146.34 L478.01 146.12 L478.3 145.8 L478.63 145.48 L478.91 145.13 L479.16 144.55 L479.4 143.5 L479.63 142.2 L479.83 140.67 L480.02 138.43 L480.2 135 L480.37 129.84 L480.52 123.34 L480.66 116.43 L480.8 110 L480.93 103.95 L481.06 97.91 L481.18 92.41 L481.3 88 L481.42 84.89 L481.54 82.78 L481.67 81.4 L481.8 80.5 L481.94 80.02 L482.08 80.09 L482.23 80.75 L482.4 82 L482.58 84.14 L482.77 87.06 L482.98 90.2 L483.2 93 L483.44 95.77 L483.69 98.66 L483.95 100.84 L484.2 101.5 L484.45 100.11 L484.71 97.22 L484.96 93.59 L485.2 90 L485.41 86.27 L485.61 82.12 L485.8 78.16 L486 75 L486.2 72.75 L486.39 71.09 L486.59 70.02 L486.8 69.5 L487.02 69.57 L487.24 70.22 L487.47 71.39 L487.7 73 L487.91 75.33 L488.09 78.31 L488.34 81.39 L488.7 84 L489.24 85.86 L489.9 87.31 L490.61 88.73 L491.3 90.5 L491.93 92.8 L492.54 95.41 L493.19 98.06 L493.9 100.5 L494.7 102.77 L495.57 104.98 L496.48 106.95 L497.4 108.5 L498.38 109.56 L499.41 110.23 L500.41 110.61 L501.3 110.8 L502.04 110.79 L502.68 110.54 L503.27 110.1 L503.9 109.5 L504.56 108.69 L505.22 107.67 L505.89 106.56 L506.6 105.5 L507.36 104.58 L508.15 103.72 L508.94 102.75 L509.7 101.5 L510.42 99.98 L511.11 98.25 L511.78 96.27 L512.4 94 L512.99 91.28 L513.54 88.19 L514.05 85 L514.5 82 L514.87 79.18 L515.17 76.41 L515.46 73.81 L515.8 71.5 L516.21 69.52 L516.66 67.79 L517.13 66.3 L517.6 65 L518.08 63.92 L518.57 63.07 L519.05 62.38 L519.5 61.8 L519.88 61.31 L520.21 60.96 L520.56 60.72 L521 60.6 L521.57 60.64 L522.22 60.84 L522.89 61.09 L523.5 61.3 L524.01 61.5 L524.47 61.71 L524.94 61.87 L525.5 61.9 L526.19 61.73 L526.97 61.42 L527.76 61.08 L528.5 60.8 L529.13 60.67 L529.7 60.61 L530.3 60.5 L531 60.2 L531.89 59.68 L532.89 59.01 L533.9 58.21 L534.8 57.3 L535.52 56.29 L536.13 55.16 L536.73 53.93 L537.4 52.6 L538.18 51.09 L539.01 49.42 L539.87 47.76 L540.7 46.3 L541.5 45.05 L542.3 43.92 L543.1 42.94 L543.9 42.1 L544.72 41.41 L545.55 40.88 L546.38 40.47 L547.2 40.2 L548.01 40.11 L548.81 40.2 L549.6 40.34 L550.4 40.4 L551.2 40.38 L551.99 40.34 L552.79 40.25 L553.6 40.1 L554.42 39.87 L555.25 39.58 L556.08 39.25 L556.9 38.9 L557.7 38.55 L558.5 38.18 L559.3 37.77 L560.1 37.3 L560.92 36.73 L561.75 36.09 L562.58 35.43 L563.4 34.8 L564.23 34.17 L565.06 33.52 L565.87 32.94 L566.6 32.5 L567.19 32.21 L567.69 32.04 L568.21 31.98 L568.9 32 L569.76 32.12 L570.74 32.33 L571.84 32.63 L573.1 33 L574.56 33.47 L576.21 34.04 L577.92 34.64 L579.6 35.2 L581.23 35.72 L582.86 36.23 L584.48 36.72 L586.1 37.2 L587.86 37.71 L589.71 38.23 L591.35 38.68 L592.5 39" fill="none" stroke="#e02a1e" stroke-width="1.2" stroke-linejoin="round"/>
<path d="M450.3 217.9 L454.15 217.9 L459.74 217.91 L465.54 217.91 L470 217.9 L472.66 217.89 L474.37 217.89 L475.51 217.86 L476.5 217.8 L477.3 217.71 L477.74 217.6 L478.01 217.44 L478.3 217.2 L478.63 217.06 L478.91 216.97 L479.16 216.57 L479.4 215.5 L479.63 213.83 L479.83 211.71 L480.02 208.85 L480.2 205 L480.37 199.58 L480.52 192.91 L480.66 186.03 L480.8 180 L480.93 174.93 L481.06 170.31 L481.18 166.29 L481.3 163 L481.42 160.52 L481.54 158.75 L481.66 157.61 L481.8 157 L481.95 156.95 L482.12 157.5 L482.3 158.55 L482.5 160 L482.74 162.16 L483 164.97 L483.26 167.79 L483.5 170 L483.69 171.73 L483.85 173.22 L484.01 173.97 L484.2 173.5 L484.43 171.33 L484.69 167.84 L484.96 163.81 L485.2 160 L485.41 156.3 L485.61 152.4 L485.8 148.8 L486 146 L486.2 144.13 L486.39 142.93 L486.59 142.29 L486.8 142.1 L487.02 142.37 L487.24 143.14 L487.47 144.37 L487.7 146 L487.91 148.27 L488.09 151.13 L488.34 154.07 L488.7 156.6 L489.24 158.44 L489.9 159.91 L490.61 161.37 L491.3 163.2 L491.93 165.64 L492.54 168.45 L493.19 171.26 L493.9 173.7 L494.7 175.71 L495.57 177.46 L496.48 178.99 L497.4 180.3 L498.38 181.43 L499.41 182.36 L500.41 183.04 L501.3 183.4 L502.04 183.39 L502.68 183.04 L503.27 182.48 L503.9 181.8 L504.57 180.97 L505.25 179.96 L505.93 178.86 L506.6 177.8 L507.26 176.87 L507.91 175.99 L508.55 174.99 L509.2 173.7 L509.85 172.15 L510.49 170.4 L511.14 168.33 L511.8 165.8 L512.49 162.54 L513.2 158.7 L513.89 154.78 L514.5 151.3 L515.01 148.32 L515.44 145.59 L515.85 143.14 L516.3 141 L516.8 139.23 L517.33 137.79 L517.87 136.58 L518.4 135.5 L518.93 134.55 L519.46 133.76 L519.99 133.12 L520.5 132.6 L520.98 132.19 L521.45 131.9 L521.92 131.74 L522.4 131.7 L522.92 131.86 L523.46 132.18 L523.99 132.54 L524.5 132.8 L524.96 132.94 L525.39 133.02 L525.83 133.04 L526.3 133 L526.83 132.88 L527.39 132.68 L527.95 132.44 L528.5 132.2 L528.96 132.05 L529.37 131.95 L529.84 131.7 L530.5 131.1 L531.42 130.08 L532.51 128.75 L533.68 127.2 L534.8 125.5 L535.85 123.55 L536.9 121.34 L537.95 119.13 L539 117.2 L540.07 115.56 L541.15 114.1 L542.23 112.84 L543.3 111.8 L544.35 111.03 L545.4 110.51 L546.45 110.16 L547.5 109.9 L548.57 109.81 L549.65 109.91 L550.73 110 L551.8 109.9 L552.85 109.57 L553.9 109.09 L554.95 108.52 L556 107.9 L557.07 107.2 L558.14 106.41 L559.22 105.59 L560.3 104.8 L561.38 104.05 L562.46 103.31 L563.53 102.59 L564.6 101.9 L565.65 101.18 L566.7 100.44 L567.75 99.8 L568.8 99.4 L569.84 99.27 L570.86 99.35 L571.93 99.58 L573.1 99.9 L574.41 100.37 L575.81 100.99 L577.26 101.65 L578.7 102.2 L580.06 102.6 L581.39 102.91 L582.8 103.22 L584.4 103.6 L586.45 104.12 L588.81 104.74 L590.99 105.31 L592.5 105.7" fill="none" stroke="#34349a" stroke-width="1.2" stroke-linejoin="round"/>
<path d="M554.8 10.4 H450 V219 H594 V10.4 H588.8" fill="none" stroke="#858585" stroke-width="1.3"/>
<g stroke="#6e6e6e" stroke-width="0.8"><line x1="451.3" y1="219" x2="451.3" y2="222.2"/><line x1="479.48" y1="219" x2="479.48" y2="222.2"/><line x1="507.66" y1="219" x2="507.66" y2="222.2"/><line x1="535.84" y1="219" x2="535.84" y2="222.2"/><line x1="564.02" y1="219" x2="564.02" y2="222.2"/><line x1="592.2" y1="219" x2="592.2" y2="222.2"/></g>
<text x="451.3" y="233.4" font-family="Liberation Sans, sans-serif" stroke="#1a1a1a" stroke-width="0.1" font-size="6.5" fill="#1a1a1a" text-anchor="middle" >125</text>
<text x="479.48" y="233.4" font-family="Liberation Sans, sans-serif" stroke="#1a1a1a" stroke-width="0.1" font-size="6.5" fill="#1a1a1a" text-anchor="middle" >130</text>
<text x="507.66" y="233.4" font-family="Liberation Sans, sans-serif" stroke="#1a1a1a" stroke-width="0.1" font-size="6.5" fill="#1a1a1a" text-anchor="middle" >135</text>
<text x="535.84" y="233.4" font-family="Liberation Sans, sans-serif" stroke="#1a1a1a" stroke-width="0.1" font-size="6.5" fill="#1a1a1a" text-anchor="middle" >140</text>
<text x="564.02" y="233.4" font-family="Liberation Sans, sans-serif" stroke="#1a1a1a" stroke-width="0.1" font-size="6.5" fill="#1a1a1a" text-anchor="middle" >145</text>
<text x="592.2" y="233.4" font-family="Liberation Sans, sans-serif" stroke="#1a1a1a" stroke-width="0.1" font-size="6.5" fill="#1a1a1a" text-anchor="middle" >150</text>
<text x="524.1" y="242.3" font-family="Liberation Sans, sans-serif" stroke="#1a1a1a" stroke-width="0.1" font-size="7.1" fill="#1a1a1a" text-anchor="middle">Photon energy [eV]</text>
<text transform="translate(442.7,114.8) rotate(-90)" font-family="Liberation Sans, sans-serif" stroke="#1a1a1a" stroke-width="0.1" font-size="5.8" fill="#1a1a1a" text-anchor="middle">TEY</text>
<text x="556.6" y="13.1" font-family="Liberation Sans, sans-serif" stroke="#1a1a1a" stroke-width="0.2" font-size="7.8" fill="#1a1a1a">P<tspan font-style="italic">L</tspan>-edge</text>
<text x="577.2" y="26" font-family="Liberation Serif, serif" font-size="15" fill="#111">(i)</text>
<line x1="459.3" y1="26.4" x2="470.6" y2="26.4" stroke="#e02a1e" stroke-width="1.4"/><line x1="459.3" y1="36.3" x2="470.6" y2="36.3" stroke="#3a3a9c" stroke-width="1.4"/>
<text x="477.7" y="28.9" font-family="Liberation Sans, sans-serif" stroke="#1a1a1a" stroke-width="0.1" font-size="7.7" fill="#1a1a1a" text-anchor="start" >Li-doped</text>
<text x="477.7" y="39" font-family="Liberation Sans, sans-serif" stroke="#1a1a1a" stroke-width="0.1" font-size="7.7" fill="#1a1a1a" text-anchor="start" >Pure</text>
<rect x="528.3" y="150.5" width="57.3" height="56.5" fill="#fff"/>
<line x1="584" y1="151" x2="584" y2="207" stroke="#a0a0a0" stroke-width="0.6" stroke-dasharray="0.8 0.9"/>
<path d="M528.5 192.5 L529.66 192.41 L531.31 192.29 L533.19 192.15 L535 192 L536.74 191.84 L538.53 191.67 L540.31 191.49 L542 191.3 L543.62 191.09 L545.19 190.86 L546.66 190.63 L548 190.4 L549.15 190.2 L550.16 190.02 L551.08 189.8 L552 189.5 L552.93 189.14 L553.84 188.72 L554.71 188.2 L555.5 187.5 L556.21 186.55 L556.84 185.41 L557.43 184.18 L558 183 L558.51 181.84 L558.97 180.66 L559.44 179.52 L560 178.5 L560.69 177.64 L561.47 176.91 L562.26 176.21 L563 175.5 L563.68 174.79 L564.32 174.09 L564.94 173.36 L565.5 172.5 L566.01 171.52 L566.48 170.44 L566.9 169.27 L567.3 168 L567.67 166.61 L568.01 165.09 L568.31 163.54 L568.6 162 L568.86 160.49 L569.09 158.97 L569.3 157.46 L569.5 156 L569.71 154.46 L569.91 152.88 L570.08 151.48 L570.2 150.5" fill="none" stroke="#e02a1e" stroke-width="1.0"/>
<path d="M528.5 194.2 L529.66 194.27 L531.31 194.38 L533.19 194.47 L535 194.5 L536.74 194.44 L538.53 194.32 L540.31 194.16 L542 194 L543.59 193.82 L545.12 193.62 L546.59 193.41 L548 193.2 L549.32 193.01 L550.56 192.82 L551.77 192.63 L553 192.4 L554.27 192.14 L555.56 191.86 L556.82 191.54 L558 191.2 L559.09 190.83 L560.12 190.43 L561.09 189.99 L562 189.5 L562.83 188.97 L563.59 188.39 L564.31 187.75 L565 187 L565.68 186.15 L566.34 185.22 L566.96 184.18 L567.5 183 L567.96 181.71 L568.34 180.31 L568.68 178.76 L569 177 L569.29 174.96 L569.54 172.69 L569.78 170.32 L570 168 L570.22 165.74 L570.43 163.47 L570.62 161.21 L570.8 159 L570.98 156.64 L571.15 154.19 L571.3 152.02 L571.4 150.5" fill="none" stroke="#3a3a9c" stroke-width="1.0"/>
<path d="M585.6 150.5 H528.3 V207 H585.6" fill="none" stroke="#5a5a5a" stroke-width="0.8"/><line x1="585.6" y1="150.5" x2="585.6" y2="207" stroke="#c8c8c8" stroke-width="0.6"/>
<g stroke="#6e6e6e" stroke-width="0.7"><line x1="528.7" y1="207" x2="528.7" y2="209.4"/><line x1="542.7" y1="207" x2="542.7" y2="209.4"/><line x1="556.9" y1="207" x2="556.9" y2="209.4"/><line x1="571" y1="207" x2="571" y2="209.4"/><line x1="585.3" y1="207" x2="585.3" y2="209.4"/></g>
<text x="543.5" y="217" font-family="Liberation Sans, sans-serif" stroke="#1a1a1a" stroke-width="0.1" font-size="6.6" fill="#1a1a1a" text-anchor="middle" >129</text>
<text x="571.6" y="217" font-family="Liberation Sans, sans-serif" stroke="#1a1a1a" stroke-width="0.1" font-size="6.6" fill="#1a1a1a" text-anchor="middle" >130</text>
<text x="551.7" y="172.3" font-family="Liberation Sans, sans-serif" stroke="#1a1a1a" stroke-width="0.1" font-size="7.8" font-weight="bold" fill="#1a1a1a">A*</text>
</svg>
</body></html>
